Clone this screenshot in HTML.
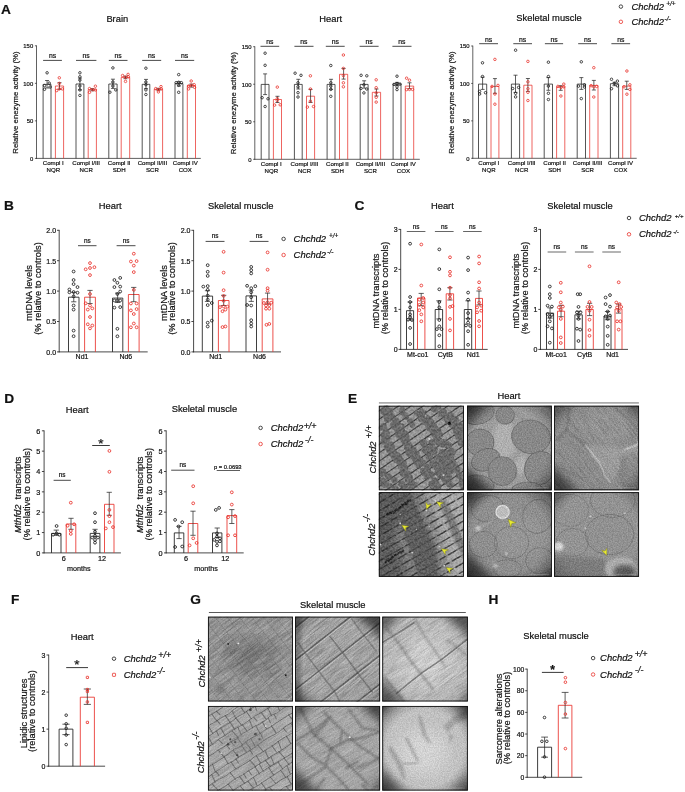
<!DOCTYPE html>
<html><head><meta charset="utf-8"><title>Figure</title>
<style>html,body{margin:0;padding:0;background:#fff}svg{display:block;font-family:"Liberation Sans", sans-serif}text{stroke:#111;stroke-width:.2px}</style></head>
<body><svg width="685" height="792" viewBox="0 0 685 792"><defs><filter id="gr1" x="0" y="0" width="100%" height="100%" color-interpolation-filters="sRGB"><feTurbulence type="fractalNoise" baseFrequency="0.8" numOctaves="2" seed="3"/><feColorMatrix type="matrix" values="2.0 0 0 0 -0.500 2.0 0 0 0 -0.500 2.0 0 0 0 -0.500 0 0 0 0 0.16"/></filter><filter id="gr2" x="0" y="0" width="100%" height="100%" color-interpolation-filters="sRGB"><feTurbulence type="fractalNoise" baseFrequency="0.5" numOctaves="2" seed="7"/><feColorMatrix type="matrix" values="2.2 0 0 0 -0.600 2.2 0 0 0 -0.600 2.2 0 0 0 -0.600 0 0 0 0 0.2"/></filter><filter id="gr3" x="0" y="0" width="100%" height="100%" color-interpolation-filters="sRGB"><feTurbulence type="fractalNoise" baseFrequency="0.25" numOctaves="3" seed="12"/><feColorMatrix type="matrix" values="2.2 0 0 0 -0.600 2.2 0 0 0 -0.600 2.2 0 0 0 -0.600 0 0 0 0 0.35"/></filter><filter id="fd" x="0" y="0" width="100%" height="100%" color-interpolation-filters="sRGB"><feTurbulence type="fractalNoise" baseFrequency="0.05 1.1" numOctaves="2" seed="4"/><feColorMatrix type="matrix" values="0 0 0 0 0 0 0 0 0 0 0 0 0 0 0 2.0 0 0 0 -0.75"/></filter><filter id="fw" x="0" y="0" width="100%" height="100%" color-interpolation-filters="sRGB"><feTurbulence type="fractalNoise" baseFrequency="0.05 1.1" numOctaves="2" seed="9"/><feColorMatrix type="matrix" values="0 0 0 0 1 0 0 0 0 1 0 0 0 0 1 2.0 0 0 0 -0.75"/></filter><filter id="b05"><feGaussianBlur stdDeviation="0.5"/></filter><filter id="b1"><feGaussianBlur stdDeviation="1"/></filter><filter id="b2"><feGaussianBlur stdDeviation="2.2"/></filter><filter id="b4"><feGaussianBlur stdDeviation="4.5"/></filter><filter id="b8"><feGaussianBlur stdDeviation="8"/></filter><radialGradient id="vg" cx="0.5" cy="0.5" r="0.75"><stop offset="0.58" stop-color="#000" stop-opacity="0"/><stop offset="0.8" stop-color="#000" stop-opacity="0.28"/><stop offset="0.95" stop-color="#000" stop-opacity="0.78"/></radialGradient><radialGradient id="vg2" cx="0.5" cy="0.5" r="0.75"><stop offset="0.62" stop-color="#000" stop-opacity="0"/><stop offset="0.85" stop-color="#000" stop-opacity="0.18"/><stop offset="0.96" stop-color="#000" stop-opacity="0.5"/></radialGradient><clipPath id="cp"><rect x="0" y="0" width="84" height="84"/></clipPath></defs>
<rect width="685" height="792" fill="#fff"/>
<text x="1" y="13.9" font-size="13.7" text-anchor="start" font-weight="bold" fill="#111">A</text>
<text x="4" y="210.2" font-size="13.7" text-anchor="start" font-weight="bold" fill="#111">B</text>
<text x="354.6" y="210.2" font-size="13.7" text-anchor="start" font-weight="bold" fill="#111">C</text>
<text x="4.2" y="402.9" font-size="13.7" text-anchor="start" font-weight="bold" fill="#111">D</text>
<text x="348" y="402.7" font-size="13.7" text-anchor="start" font-weight="bold" fill="#111">E</text>
<text x="11" y="603.5" font-size="13.7" text-anchor="start" font-weight="bold" fill="#111">F</text>
<text x="190.2" y="603.5" font-size="13.7" text-anchor="start" font-weight="bold" fill="#111">G</text>
<text x="488.4" y="603.5" font-size="13.7" text-anchor="start" font-weight="bold" fill="#111">H</text>
<line x1="36.5" y1="45.45" x2="36.5" y2="158.75" stroke="#1c1c1c" stroke-width="0.7"/>
<line x1="36.15" y1="158.4" x2="200.8" y2="158.4" stroke="#1c1c1c" stroke-width="0.7"/>
<line x1="34.9" y1="158.4" x2="36.5" y2="158.4" stroke="#1c1c1c" stroke-width="0.7"/>
<text x="33.2" y="160.76" font-size="5.9" text-anchor="end" fill="#111">0</text>
<line x1="34.9" y1="120.87" x2="36.5" y2="120.87" stroke="#1c1c1c" stroke-width="0.7"/>
<text x="33.2" y="123.23" font-size="5.9" text-anchor="end" fill="#111">50</text>
<line x1="34.9" y1="83.33" x2="36.5" y2="83.33" stroke="#1c1c1c" stroke-width="0.7"/>
<text x="33.2" y="85.69" font-size="5.9" text-anchor="end" fill="#111">100</text>
<line x1="34.9" y1="45.8" x2="36.5" y2="45.8" stroke="#1c1c1c" stroke-width="0.7"/>
<text x="33.2" y="48.16" font-size="5.9" text-anchor="end" fill="#111">150</text>
<text x="117.3" y="22" font-size="9.35" text-anchor="middle" fill="#111">Brain</text>
<path d="M43.1 158.4V84.4H51V158.4" fill="none" stroke="#1c1c1c" stroke-width="0.75"/>
<path d="M47.05 80.5V88M45.05 80.5H49.05M45.05 88H49.05" fill="none" stroke="#2a2a2a" stroke-width="0.75"/>
<circle cx="47.1" cy="72.8" r="1.25" fill="none" stroke="#1c1c1c" stroke-width="0.8"/>
<circle cx="49.2" cy="83.1" r="1.25" fill="none" stroke="#1c1c1c" stroke-width="0.8"/>
<circle cx="44.5" cy="85.6" r="1.25" fill="none" stroke="#1c1c1c" stroke-width="0.8"/>
<circle cx="44.5" cy="89.3" r="1.25" fill="none" stroke="#1c1c1c" stroke-width="0.8"/>
<circle cx="50.1" cy="87" r="1.25" fill="none" stroke="#1c1c1c" stroke-width="0.8"/>
<path d="M55.4 158.4V86H63.6V158.4" fill="none" stroke="#e8322c" stroke-width="0.75"/>
<path d="M59.5 82.7V89.3M57.5 82.7H61.5M57.5 89.3H61.5" fill="none" stroke="#2a2a2a" stroke-width="0.75"/>
<circle cx="59.3" cy="77.8" r="1.25" fill="none" stroke="#e8322c" stroke-width="0.8"/>
<circle cx="59.3" cy="83.4" r="1.25" fill="none" stroke="#e8322c" stroke-width="0.8"/>
<circle cx="56.7" cy="90.6" r="1.25" fill="none" stroke="#e8322c" stroke-width="0.8"/>
<circle cx="59.3" cy="88.9" r="1.25" fill="none" stroke="#e8322c" stroke-width="0.8"/>
<circle cx="62.3" cy="88.9" r="1.25" fill="none" stroke="#e8322c" stroke-width="0.8"/>
<path d="M76 158.4V84H83.9V158.4" fill="none" stroke="#1c1c1c" stroke-width="0.75"/>
<path d="M79.95 78.1V89.9M77.95 78.1H81.95M77.95 89.9H81.95" fill="none" stroke="#2a2a2a" stroke-width="0.75"/>
<circle cx="79.9" cy="72.8" r="1.25" fill="none" stroke="#1c1c1c" stroke-width="0.8"/>
<circle cx="79.9" cy="76.8" r="1.25" fill="none" stroke="#1c1c1c" stroke-width="0.8"/>
<circle cx="79.9" cy="80.1" r="1.25" fill="none" stroke="#1c1c1c" stroke-width="0.8"/>
<circle cx="79.9" cy="86" r="1.25" fill="none" stroke="#1c1c1c" stroke-width="0.8"/>
<circle cx="79.9" cy="89.9" r="1.25" fill="none" stroke="#1c1c1c" stroke-width="0.8"/>
<circle cx="79.9" cy="95.4" r="1.25" fill="none" stroke="#1c1c1c" stroke-width="0.8"/>
<path d="M88.2 158.4V89.7H96.4V158.4" fill="none" stroke="#e8322c" stroke-width="0.75"/>
<path d="M92.3 88.6V90.8M90.3 88.6H94.3M90.3 90.8H94.3" fill="none" stroke="#2a2a2a" stroke-width="0.75"/>
<circle cx="95.4" cy="86.2" r="1.25" fill="none" stroke="#e8322c" stroke-width="0.8"/>
<circle cx="89.5" cy="88.6" r="1.25" fill="none" stroke="#e8322c" stroke-width="0.8"/>
<circle cx="92.8" cy="89.7" r="1.25" fill="none" stroke="#e8322c" stroke-width="0.8"/>
<circle cx="95.4" cy="89.9" r="1.25" fill="none" stroke="#e8322c" stroke-width="0.8"/>
<circle cx="89.5" cy="92.3" r="1.25" fill="none" stroke="#e8322c" stroke-width="0.8"/>
<path d="M108.8 158.4V84H117.1V158.4" fill="none" stroke="#1c1c1c" stroke-width="0.75"/>
<path d="M112.95 79.2V88.4M110.95 79.2H114.95M110.95 88.4H114.95" fill="none" stroke="#2a2a2a" stroke-width="0.75"/>
<circle cx="112.9" cy="67.9" r="1.25" fill="none" stroke="#1c1c1c" stroke-width="0.8"/>
<circle cx="112.9" cy="82" r="1.25" fill="none" stroke="#1c1c1c" stroke-width="0.8"/>
<circle cx="112.9" cy="86" r="1.25" fill="none" stroke="#1c1c1c" stroke-width="0.8"/>
<circle cx="109.9" cy="92.2" r="1.25" fill="none" stroke="#1c1c1c" stroke-width="0.8"/>
<circle cx="115.8" cy="89.9" r="1.25" fill="none" stroke="#1c1c1c" stroke-width="0.8"/>
<path d="M121.2 158.4V77.4H129.7V158.4" fill="none" stroke="#e8322c" stroke-width="0.75"/>
<path d="M125.45 76.1V78.7M123.45 76.1H127.45M123.45 78.7H127.45" fill="none" stroke="#2a2a2a" stroke-width="0.75"/>
<circle cx="122.6" cy="75.5" r="1.25" fill="none" stroke="#e8322c" stroke-width="0.8"/>
<circle cx="125.5" cy="77.4" r="1.25" fill="none" stroke="#e8322c" stroke-width="0.8"/>
<circle cx="128.1" cy="74.4" r="1.25" fill="none" stroke="#e8322c" stroke-width="0.8"/>
<circle cx="128.4" cy="76.8" r="1.25" fill="none" stroke="#e8322c" stroke-width="0.8"/>
<circle cx="125.5" cy="81.4" r="1.25" fill="none" stroke="#e8322c" stroke-width="0.8"/>
<path d="M142.2 158.4V84.3H149.8V158.4" fill="none" stroke="#1c1c1c" stroke-width="0.75"/>
<path d="M146 79.4V88.6M144 79.4H148M144 88.6H148" fill="none" stroke="#2a2a2a" stroke-width="0.75"/>
<circle cx="145.9" cy="68.2" r="1.25" fill="none" stroke="#1c1c1c" stroke-width="0.8"/>
<circle cx="145.9" cy="82" r="1.25" fill="none" stroke="#1c1c1c" stroke-width="0.8"/>
<circle cx="145.9" cy="84.7" r="1.25" fill="none" stroke="#1c1c1c" stroke-width="0.8"/>
<circle cx="145.9" cy="89.9" r="1.25" fill="none" stroke="#1c1c1c" stroke-width="0.8"/>
<circle cx="145.9" cy="94.5" r="1.25" fill="none" stroke="#1c1c1c" stroke-width="0.8"/>
<path d="M154.2 158.4V89.3H162.6V158.4" fill="none" stroke="#e8322c" stroke-width="0.75"/>
<path d="M158.4 88.3V90.3M156.4 88.3H160.4M156.4 90.3H160.4" fill="none" stroke="#2a2a2a" stroke-width="0.75"/>
<circle cx="155.7" cy="88.6" r="1.25" fill="none" stroke="#e8322c" stroke-width="0.8"/>
<circle cx="158.4" cy="89.7" r="1.25" fill="none" stroke="#e8322c" stroke-width="0.8"/>
<circle cx="161" cy="86.6" r="1.25" fill="none" stroke="#e8322c" stroke-width="0.8"/>
<circle cx="161.3" cy="88.9" r="1.25" fill="none" stroke="#e8322c" stroke-width="0.8"/>
<circle cx="158.4" cy="91.9" r="1.25" fill="none" stroke="#e8322c" stroke-width="0.8"/>
<path d="M175 158.4V83.6H182.9V158.4" fill="none" stroke="#1c1c1c" stroke-width="0.75"/>
<path d="M178.95 81.8V86M176.95 81.8H180.95M176.95 86H180.95" fill="none" stroke="#2a2a2a" stroke-width="0.75"/>
<circle cx="178.7" cy="74.6" r="1.25" fill="none" stroke="#1c1c1c" stroke-width="0.8"/>
<circle cx="176.1" cy="82.7" r="1.25" fill="none" stroke="#1c1c1c" stroke-width="0.8"/>
<circle cx="178.7" cy="82.3" r="1.25" fill="none" stroke="#1c1c1c" stroke-width="0.8"/>
<circle cx="181.4" cy="82.7" r="1.25" fill="none" stroke="#1c1c1c" stroke-width="0.8"/>
<circle cx="178.7" cy="85.3" r="1.25" fill="none" stroke="#1c1c1c" stroke-width="0.8"/>
<circle cx="178.7" cy="92.3" r="1.25" fill="none" stroke="#1c1c1c" stroke-width="0.8"/>
<path d="M187.3 158.4V85.6H195.5V158.4" fill="none" stroke="#e8322c" stroke-width="0.75"/>
<path d="M191.4 84.1V87.1M189.4 84.1H193.4M189.4 87.1H193.4" fill="none" stroke="#2a2a2a" stroke-width="0.75"/>
<circle cx="191.2" cy="81" r="1.25" fill="none" stroke="#e8322c" stroke-width="0.8"/>
<circle cx="188.6" cy="86" r="1.25" fill="none" stroke="#e8322c" stroke-width="0.8"/>
<circle cx="191.2" cy="85.3" r="1.25" fill="none" stroke="#e8322c" stroke-width="0.8"/>
<circle cx="194.2" cy="84.7" r="1.25" fill="none" stroke="#e8322c" stroke-width="0.8"/>
<circle cx="188.6" cy="88.9" r="1.25" fill="none" stroke="#e8322c" stroke-width="0.8"/>
<circle cx="194.5" cy="87.3" r="1.25" fill="none" stroke="#e8322c" stroke-width="0.8"/>
<line x1="43.1" y1="60.4" x2="61.9" y2="60.4" stroke="#4a4a4a" stroke-width="1.0"/>
<text x="52.5" y="58.2" font-size="6.8" text-anchor="middle" fill="#111">ns</text>
<line x1="76" y1="60.4" x2="96.4" y2="60.4" stroke="#4a4a4a" stroke-width="1.0"/>
<text x="86.2" y="58.2" font-size="6.8" text-anchor="middle" fill="#111">ns</text>
<line x1="108.8" y1="60.4" x2="127.5" y2="60.4" stroke="#4a4a4a" stroke-width="1.0"/>
<text x="118.15" y="58.2" font-size="6.8" text-anchor="middle" fill="#111">ns</text>
<line x1="142.2" y1="60.4" x2="161.2" y2="60.4" stroke="#4a4a4a" stroke-width="1.0"/>
<text x="151.7" y="58.2" font-size="6.8" text-anchor="middle" fill="#111">ns</text>
<line x1="175" y1="60.4" x2="194.2" y2="60.4" stroke="#4a4a4a" stroke-width="1.0"/>
<text x="184.6" y="58.2" font-size="6.8" text-anchor="middle" fill="#111">ns</text>
<text x="53.3" y="165.3" font-size="6.1" text-anchor="middle" fill="#111">Compl I</text>
<text x="53.3" y="172.4" font-size="6.1" text-anchor="middle" fill="#111">NQR</text>
<text x="86.2" y="165.3" font-size="6.1" text-anchor="middle" fill="#111">Compl I/III</text>
<text x="86.2" y="172.4" font-size="6.1" text-anchor="middle" fill="#111">NCR</text>
<text x="119.2" y="165.3" font-size="6.1" text-anchor="middle" fill="#111">Compl II</text>
<text x="119.2" y="172.4" font-size="6.1" text-anchor="middle" fill="#111">SDH</text>
<text x="152.4" y="165.3" font-size="6.1" text-anchor="middle" fill="#111">Compl II/III</text>
<text x="152.4" y="172.4" font-size="6.1" text-anchor="middle" fill="#111">SCR</text>
<text x="185.3" y="165.3" font-size="6.1" text-anchor="middle" fill="#111">Compl IV</text>
<text x="185.3" y="172.4" font-size="6.1" text-anchor="middle" fill="#111">COX</text>
<line x1="254.8" y1="46.35" x2="254.8" y2="159.65" stroke="#1c1c1c" stroke-width="0.7"/>
<line x1="254.45" y1="159.3" x2="419.8" y2="159.3" stroke="#1c1c1c" stroke-width="0.7"/>
<line x1="253.2" y1="159.3" x2="254.8" y2="159.3" stroke="#1c1c1c" stroke-width="0.7"/>
<text x="251.5" y="161.66" font-size="5.9" text-anchor="end" fill="#111">0</text>
<line x1="253.2" y1="121.77" x2="254.8" y2="121.77" stroke="#1c1c1c" stroke-width="0.7"/>
<text x="251.5" y="124.13" font-size="5.9" text-anchor="end" fill="#111">50</text>
<line x1="253.2" y1="84.23" x2="254.8" y2="84.23" stroke="#1c1c1c" stroke-width="0.7"/>
<text x="251.5" y="86.59" font-size="5.9" text-anchor="end" fill="#111">100</text>
<line x1="253.2" y1="46.7" x2="254.8" y2="46.7" stroke="#1c1c1c" stroke-width="0.7"/>
<text x="251.5" y="49.06" font-size="5.9" text-anchor="end" fill="#111">150</text>
<text x="330.8" y="21.8" font-size="9.35" text-anchor="middle" fill="#111">Heart</text>
<path d="M261.2 159.3V84.4H269V159.3" fill="none" stroke="#1c1c1c" stroke-width="0.75"/>
<path d="M265.1 73.9V94.6M263.1 73.9H267.1M263.1 94.6H267.1" fill="none" stroke="#2a2a2a" stroke-width="0.75"/>
<circle cx="265.1" cy="53.2" r="1.25" fill="none" stroke="#1c1c1c" stroke-width="0.8"/>
<circle cx="265.1" cy="65.3" r="1.25" fill="none" stroke="#1c1c1c" stroke-width="0.8"/>
<circle cx="262.1" cy="97.7" r="1.25" fill="none" stroke="#1c1c1c" stroke-width="0.8"/>
<circle cx="268" cy="98.8" r="1.25" fill="none" stroke="#1c1c1c" stroke-width="0.8"/>
<circle cx="265.1" cy="106.5" r="1.25" fill="none" stroke="#1c1c1c" stroke-width="0.8"/>
<path d="M273.4 159.3V99.5H281.5V159.3" fill="none" stroke="#e8322c" stroke-width="0.75"/>
<path d="M277.45 96.3V102.5M275.45 96.3H279.45M275.45 102.5H279.45" fill="none" stroke="#2a2a2a" stroke-width="0.75"/>
<circle cx="277.3" cy="87.1" r="1.25" fill="none" stroke="#e8322c" stroke-width="0.8"/>
<circle cx="277.3" cy="98.6" r="1.25" fill="none" stroke="#e8322c" stroke-width="0.8"/>
<circle cx="277.3" cy="100.5" r="1.25" fill="none" stroke="#e8322c" stroke-width="0.8"/>
<circle cx="274.6" cy="105.1" r="1.25" fill="none" stroke="#e8322c" stroke-width="0.8"/>
<circle cx="280.2" cy="104.8" r="1.25" fill="none" stroke="#e8322c" stroke-width="0.8"/>
<path d="M294.4 159.3V84.4H302.2V159.3" fill="none" stroke="#1c1c1c" stroke-width="0.75"/>
<path d="M298.3 79.3V89M296.3 79.3H300.3M296.3 89H300.3" fill="none" stroke="#2a2a2a" stroke-width="0.75"/>
<circle cx="295.1" cy="73.2" r="1.25" fill="none" stroke="#1c1c1c" stroke-width="0.8"/>
<circle cx="301" cy="75.3" r="1.25" fill="none" stroke="#1c1c1c" stroke-width="0.8"/>
<circle cx="298" cy="82.8" r="1.25" fill="none" stroke="#1c1c1c" stroke-width="0.8"/>
<circle cx="298" cy="86.8" r="1.25" fill="none" stroke="#1c1c1c" stroke-width="0.8"/>
<circle cx="298" cy="92.7" r="1.25" fill="none" stroke="#1c1c1c" stroke-width="0.8"/>
<circle cx="298" cy="97" r="1.25" fill="none" stroke="#1c1c1c" stroke-width="0.8"/>
<path d="M306.5 159.3V96.2H314.6V159.3" fill="none" stroke="#e8322c" stroke-width="0.75"/>
<path d="M310.55 89.4V102.5M308.55 89.4H312.55M308.55 102.5H312.55" fill="none" stroke="#2a2a2a" stroke-width="0.75"/>
<circle cx="310.4" cy="75.8" r="1.25" fill="none" stroke="#e8322c" stroke-width="0.8"/>
<circle cx="310.4" cy="89" r="1.25" fill="none" stroke="#e8322c" stroke-width="0.8"/>
<circle cx="310.4" cy="101.2" r="1.25" fill="none" stroke="#e8322c" stroke-width="0.8"/>
<circle cx="307.4" cy="107.1" r="1.25" fill="none" stroke="#e8322c" stroke-width="0.8"/>
<circle cx="313.5" cy="106.5" r="1.25" fill="none" stroke="#e8322c" stroke-width="0.8"/>
<path d="M327.1 159.3V84.4H335V159.3" fill="none" stroke="#1c1c1c" stroke-width="0.75"/>
<path d="M331.05 79.3V89.4M329.05 79.3H333.05M329.05 89.4H333.05" fill="none" stroke="#2a2a2a" stroke-width="0.75"/>
<circle cx="330.8" cy="65.5" r="1.25" fill="none" stroke="#1c1c1c" stroke-width="0.8"/>
<circle cx="330.8" cy="82.8" r="1.25" fill="none" stroke="#1c1c1c" stroke-width="0.8"/>
<circle cx="330.8" cy="86.1" r="1.25" fill="none" stroke="#1c1c1c" stroke-width="0.8"/>
<circle cx="330.8" cy="89.4" r="1.25" fill="none" stroke="#1c1c1c" stroke-width="0.8"/>
<circle cx="330.8" cy="96.3" r="1.25" fill="none" stroke="#1c1c1c" stroke-width="0.8"/>
<path d="M339.5 159.3V74.3H347.7V159.3" fill="none" stroke="#e8322c" stroke-width="0.75"/>
<path d="M343.6 68.4V79.1M341.6 68.4H345.6M341.6 79.1H345.6" fill="none" stroke="#2a2a2a" stroke-width="0.75"/>
<circle cx="343.4" cy="55" r="1.25" fill="none" stroke="#e8322c" stroke-width="0.8"/>
<circle cx="343.4" cy="68.4" r="1.25" fill="none" stroke="#e8322c" stroke-width="0.8"/>
<circle cx="343.4" cy="75.6" r="1.25" fill="none" stroke="#e8322c" stroke-width="0.8"/>
<circle cx="343.4" cy="82.8" r="1.25" fill="none" stroke="#e8322c" stroke-width="0.8"/>
<circle cx="343.4" cy="86.8" r="1.25" fill="none" stroke="#e8322c" stroke-width="0.8"/>
<path d="M360.2 159.3V84.4H368.1V159.3" fill="none" stroke="#1c1c1c" stroke-width="0.75"/>
<path d="M364.15 80.8V88.1M362.15 80.8H366.15M362.15 88.1H366.15" fill="none" stroke="#2a2a2a" stroke-width="0.75"/>
<circle cx="361.1" cy="75.3" r="1.25" fill="none" stroke="#1c1c1c" stroke-width="0.8"/>
<circle cx="366.8" cy="75.8" r="1.25" fill="none" stroke="#1c1c1c" stroke-width="0.8"/>
<circle cx="360.9" cy="88.5" r="1.25" fill="none" stroke="#1c1c1c" stroke-width="0.8"/>
<circle cx="366.8" cy="89" r="1.25" fill="none" stroke="#1c1c1c" stroke-width="0.8"/>
<circle cx="363.9" cy="84.8" r="1.25" fill="none" stroke="#1c1c1c" stroke-width="0.8"/>
<circle cx="363.9" cy="92.9" r="1.25" fill="none" stroke="#1c1c1c" stroke-width="0.8"/>
<path d="M372.3 159.3V92.3H380.6V159.3" fill="none" stroke="#e8322c" stroke-width="0.75"/>
<path d="M376.45 89V96M374.45 89H378.45M374.45 96H378.45" fill="none" stroke="#2a2a2a" stroke-width="0.75"/>
<circle cx="376.2" cy="79.8" r="1.25" fill="none" stroke="#e8322c" stroke-width="0.8"/>
<circle cx="376.2" cy="87.7" r="1.25" fill="none" stroke="#e8322c" stroke-width="0.8"/>
<circle cx="376.2" cy="92.9" r="1.25" fill="none" stroke="#e8322c" stroke-width="0.8"/>
<circle cx="376.2" cy="97.3" r="1.25" fill="none" stroke="#e8322c" stroke-width="0.8"/>
<circle cx="376.2" cy="102.1" r="1.25" fill="none" stroke="#e8322c" stroke-width="0.8"/>
<path d="M393.1 159.3V83.9H401V159.3" fill="none" stroke="#1c1c1c" stroke-width="0.75"/>
<path d="M397.05 82.4V85.4M395.05 82.4H399.05M395.05 85.4H399.05" fill="none" stroke="#2a2a2a" stroke-width="0.75"/>
<circle cx="397" cy="76.2" r="1.25" fill="none" stroke="#1c1c1c" stroke-width="0.8"/>
<circle cx="394" cy="84.4" r="1.25" fill="none" stroke="#1c1c1c" stroke-width="0.8"/>
<circle cx="397" cy="83.5" r="1.25" fill="none" stroke="#1c1c1c" stroke-width="0.8"/>
<circle cx="400" cy="84.1" r="1.25" fill="none" stroke="#1c1c1c" stroke-width="0.8"/>
<circle cx="397" cy="86.8" r="1.25" fill="none" stroke="#1c1c1c" stroke-width="0.8"/>
<circle cx="397" cy="89.6" r="1.25" fill="none" stroke="#1c1c1c" stroke-width="0.8"/>
<path d="M405.3 159.3V86.1H413.7V159.3" fill="none" stroke="#e8322c" stroke-width="0.75"/>
<path d="M409.5 82.8V88.7M407.5 82.8H411.5M407.5 88.7H411.5" fill="none" stroke="#2a2a2a" stroke-width="0.75"/>
<circle cx="406.6" cy="78.2" r="1.25" fill="none" stroke="#e8322c" stroke-width="0.8"/>
<circle cx="409.5" cy="80.2" r="1.25" fill="none" stroke="#e8322c" stroke-width="0.8"/>
<circle cx="406.6" cy="89.6" r="1.25" fill="none" stroke="#e8322c" stroke-width="0.8"/>
<circle cx="409.5" cy="89.4" r="1.25" fill="none" stroke="#e8322c" stroke-width="0.8"/>
<circle cx="412.5" cy="89.4" r="1.25" fill="none" stroke="#e8322c" stroke-width="0.8"/>
<line x1="260.5" y1="46.3" x2="279.2" y2="46.3" stroke="#4a4a4a" stroke-width="1.0"/>
<text x="269.85" y="44.1" font-size="6.8" text-anchor="middle" fill="#111">ns</text>
<line x1="294.4" y1="46.3" x2="313.5" y2="46.3" stroke="#4a4a4a" stroke-width="1.0"/>
<text x="303.95" y="44.1" font-size="6.8" text-anchor="middle" fill="#111">ns</text>
<line x1="325.8" y1="46.3" x2="344.7" y2="46.3" stroke="#4a4a4a" stroke-width="1.0"/>
<text x="335.25" y="44.1" font-size="6.8" text-anchor="middle" fill="#111">ns</text>
<line x1="359.6" y1="46.3" x2="378.6" y2="46.3" stroke="#4a4a4a" stroke-width="1.0"/>
<text x="369.1" y="44.1" font-size="6.8" text-anchor="middle" fill="#111">ns</text>
<line x1="392.4" y1="46.3" x2="411.5" y2="46.3" stroke="#4a4a4a" stroke-width="1.0"/>
<text x="401.95" y="44.1" font-size="6.8" text-anchor="middle" fill="#111">ns</text>
<text x="271.3" y="166.2" font-size="6.1" text-anchor="middle" fill="#111">Compl I</text>
<text x="271.3" y="173.3" font-size="6.1" text-anchor="middle" fill="#111">NQR</text>
<text x="304.5" y="166.2" font-size="6.1" text-anchor="middle" fill="#111">Compl I/III</text>
<text x="304.5" y="173.3" font-size="6.1" text-anchor="middle" fill="#111">NCR</text>
<text x="337.4" y="166.2" font-size="6.1" text-anchor="middle" fill="#111">Compl II</text>
<text x="337.4" y="173.3" font-size="6.1" text-anchor="middle" fill="#111">SDH</text>
<text x="370.4" y="166.2" font-size="6.1" text-anchor="middle" fill="#111">Compl II/III</text>
<text x="370.4" y="173.3" font-size="6.1" text-anchor="middle" fill="#111">SCR</text>
<text x="403.4" y="166.2" font-size="6.1" text-anchor="middle" fill="#111">Compl IV</text>
<text x="403.4" y="173.3" font-size="6.1" text-anchor="middle" fill="#111">COX</text>
<line x1="472.8" y1="45.65" x2="472.8" y2="158.65" stroke="#1c1c1c" stroke-width="0.7"/>
<line x1="472.45" y1="158.3" x2="636.7" y2="158.3" stroke="#1c1c1c" stroke-width="0.7"/>
<line x1="471.2" y1="158.3" x2="472.8" y2="158.3" stroke="#1c1c1c" stroke-width="0.7"/>
<text x="469.5" y="160.66" font-size="5.9" text-anchor="end" fill="#111">0</text>
<line x1="471.2" y1="120.87" x2="472.8" y2="120.87" stroke="#1c1c1c" stroke-width="0.7"/>
<text x="469.5" y="123.23" font-size="5.9" text-anchor="end" fill="#111">50</text>
<line x1="471.2" y1="83.43" x2="472.8" y2="83.43" stroke="#1c1c1c" stroke-width="0.7"/>
<text x="469.5" y="85.79" font-size="5.9" text-anchor="end" fill="#111">100</text>
<line x1="471.2" y1="46" x2="472.8" y2="46" stroke="#1c1c1c" stroke-width="0.7"/>
<text x="469.5" y="48.36" font-size="5.9" text-anchor="end" fill="#111">150</text>
<text x="549" y="21.3" font-size="9.35" text-anchor="middle" fill="#111">Skeletal muscle</text>
<path d="M478.5 158.3V84.1H486.7V158.3" fill="none" stroke="#1c1c1c" stroke-width="0.75"/>
<path d="M482.6 77.2V89.4M480.6 77.2H484.6M480.6 89.4H484.6" fill="none" stroke="#2a2a2a" stroke-width="0.75"/>
<circle cx="482.5" cy="62.8" r="1.25" fill="none" stroke="#1c1c1c" stroke-width="0.8"/>
<circle cx="482.5" cy="76.5" r="1.25" fill="none" stroke="#1c1c1c" stroke-width="0.8"/>
<circle cx="479.6" cy="91.4" r="1.25" fill="none" stroke="#1c1c1c" stroke-width="0.8"/>
<circle cx="479.6" cy="94" r="1.25" fill="none" stroke="#1c1c1c" stroke-width="0.8"/>
<circle cx="485.5" cy="92.7" r="1.25" fill="none" stroke="#1c1c1c" stroke-width="0.8"/>
<path d="M491 158.3V86.4H498.9V158.3" fill="none" stroke="#e8322c" stroke-width="0.75"/>
<path d="M494.95 78.6V93.3M492.95 78.6H496.95M492.95 93.3H496.95" fill="none" stroke="#2a2a2a" stroke-width="0.75"/>
<circle cx="494.9" cy="59.4" r="1.25" fill="none" stroke="#e8322c" stroke-width="0.8"/>
<circle cx="492" cy="86.4" r="1.25" fill="none" stroke="#e8322c" stroke-width="0.8"/>
<circle cx="498" cy="85.4" r="1.25" fill="none" stroke="#e8322c" stroke-width="0.8"/>
<circle cx="494.9" cy="94" r="1.25" fill="none" stroke="#e8322c" stroke-width="0.8"/>
<circle cx="494.9" cy="104.2" r="1.25" fill="none" stroke="#e8322c" stroke-width="0.8"/>
<path d="M511.4 158.3V84.1H519.6V158.3" fill="none" stroke="#1c1c1c" stroke-width="0.75"/>
<path d="M515.5 75.2V92.4M513.5 75.2H517.5M513.5 92.4H517.5" fill="none" stroke="#2a2a2a" stroke-width="0.75"/>
<circle cx="515.6" cy="50.2" r="1.25" fill="none" stroke="#1c1c1c" stroke-width="0.8"/>
<circle cx="512.7" cy="88.5" r="1.25" fill="none" stroke="#1c1c1c" stroke-width="0.8"/>
<circle cx="518.6" cy="87.4" r="1.25" fill="none" stroke="#1c1c1c" stroke-width="0.8"/>
<circle cx="515.6" cy="93.3" r="1.25" fill="none" stroke="#1c1c1c" stroke-width="0.8"/>
<circle cx="515.6" cy="96.9" r="1.25" fill="none" stroke="#1c1c1c" stroke-width="0.8"/>
<path d="M523.8 158.3V85.2H532V158.3" fill="none" stroke="#e8322c" stroke-width="0.75"/>
<path d="M527.9 78.5V91.4M525.9 78.5H529.9M525.9 91.4H529.9" fill="none" stroke="#2a2a2a" stroke-width="0.75"/>
<circle cx="527.9" cy="61.4" r="1.25" fill="none" stroke="#e8322c" stroke-width="0.8"/>
<circle cx="527.9" cy="81.8" r="1.25" fill="none" stroke="#e8322c" stroke-width="0.8"/>
<circle cx="527.9" cy="88.7" r="1.25" fill="none" stroke="#e8322c" stroke-width="0.8"/>
<circle cx="527.9" cy="92.3" r="1.25" fill="none" stroke="#e8322c" stroke-width="0.8"/>
<circle cx="527.9" cy="100.5" r="1.25" fill="none" stroke="#e8322c" stroke-width="0.8"/>
<path d="M544.2 158.3V84.1H552.5V158.3" fill="none" stroke="#1c1c1c" stroke-width="0.75"/>
<path d="M548.35 77.6V90.3M546.35 77.6H550.35M546.35 90.3H550.35" fill="none" stroke="#2a2a2a" stroke-width="0.75"/>
<circle cx="548.4" cy="62.2" r="1.25" fill="none" stroke="#1c1c1c" stroke-width="0.8"/>
<circle cx="548.4" cy="76.5" r="1.25" fill="none" stroke="#1c1c1c" stroke-width="0.8"/>
<circle cx="548.4" cy="86.1" r="1.25" fill="none" stroke="#1c1c1c" stroke-width="0.8"/>
<circle cx="548.4" cy="93.3" r="1.25" fill="none" stroke="#1c1c1c" stroke-width="0.8"/>
<circle cx="548.4" cy="99.5" r="1.25" fill="none" stroke="#1c1c1c" stroke-width="0.8"/>
<path d="M556.6 158.3V86.8H564.8V158.3" fill="none" stroke="#e8322c" stroke-width="0.75"/>
<path d="M560.7 85.7V90.3M558.7 85.7H562.7M558.7 90.3H562.7" fill="none" stroke="#2a2a2a" stroke-width="0.75"/>
<circle cx="557.9" cy="86.4" r="1.25" fill="none" stroke="#e8322c" stroke-width="0.8"/>
<circle cx="560.9" cy="87.4" r="1.25" fill="none" stroke="#e8322c" stroke-width="0.8"/>
<circle cx="563.8" cy="84.1" r="1.25" fill="none" stroke="#e8322c" stroke-width="0.8"/>
<circle cx="563.8" cy="86.8" r="1.25" fill="none" stroke="#e8322c" stroke-width="0.8"/>
<circle cx="560.9" cy="96" r="1.25" fill="none" stroke="#e8322c" stroke-width="0.8"/>
<path d="M577.2 158.3V84.1H585.5V158.3" fill="none" stroke="#1c1c1c" stroke-width="0.75"/>
<path d="M581.35 77.6V89.4M579.35 77.6H583.35M579.35 89.4H583.35" fill="none" stroke="#2a2a2a" stroke-width="0.75"/>
<circle cx="581.3" cy="61.8" r="1.25" fill="none" stroke="#1c1c1c" stroke-width="0.8"/>
<circle cx="578.5" cy="86.1" r="1.25" fill="none" stroke="#1c1c1c" stroke-width="0.8"/>
<circle cx="584.4" cy="84.8" r="1.25" fill="none" stroke="#1c1c1c" stroke-width="0.8"/>
<circle cx="584.4" cy="87" r="1.25" fill="none" stroke="#1c1c1c" stroke-width="0.8"/>
<circle cx="581.3" cy="98.6" r="1.25" fill="none" stroke="#1c1c1c" stroke-width="0.8"/>
<path d="M589.7 158.3V85.4H598V158.3" fill="none" stroke="#e8322c" stroke-width="0.75"/>
<path d="M593.85 80.4V90M591.85 80.4H595.85M591.85 90H595.85" fill="none" stroke="#2a2a2a" stroke-width="0.75"/>
<circle cx="593.8" cy="67.7" r="1.25" fill="none" stroke="#e8322c" stroke-width="0.8"/>
<circle cx="591.1" cy="85.7" r="1.25" fill="none" stroke="#e8322c" stroke-width="0.8"/>
<circle cx="593.8" cy="86.8" r="1.25" fill="none" stroke="#e8322c" stroke-width="0.8"/>
<circle cx="596.6" cy="86.4" r="1.25" fill="none" stroke="#e8322c" stroke-width="0.8"/>
<circle cx="593.8" cy="97" r="1.25" fill="none" stroke="#e8322c" stroke-width="0.8"/>
<path d="M610.4 158.3V83.7H618.6V158.3" fill="none" stroke="#1c1c1c" stroke-width="0.75"/>
<path d="M614.5 82.2V85.7M612.5 82.2H616.5M612.5 85.7H616.5" fill="none" stroke="#2a2a2a" stroke-width="0.75"/>
<circle cx="611.5" cy="79.3" r="1.25" fill="none" stroke="#1c1c1c" stroke-width="0.8"/>
<circle cx="617.4" cy="81.1" r="1.25" fill="none" stroke="#1c1c1c" stroke-width="0.8"/>
<circle cx="614.4" cy="83.5" r="1.25" fill="none" stroke="#1c1c1c" stroke-width="0.8"/>
<circle cx="617.4" cy="85.8" r="1.25" fill="none" stroke="#1c1c1c" stroke-width="0.8"/>
<circle cx="611.5" cy="88.7" r="1.25" fill="none" stroke="#1c1c1c" stroke-width="0.8"/>
<path d="M622.7 158.3V86.1H630.8V158.3" fill="none" stroke="#e8322c" stroke-width="0.75"/>
<path d="M626.75 81.2V89.4M624.75 81.2H628.75M624.75 89.4H628.75" fill="none" stroke="#2a2a2a" stroke-width="0.75"/>
<circle cx="626.9" cy="71" r="1.25" fill="none" stroke="#e8322c" stroke-width="0.8"/>
<circle cx="624" cy="86.8" r="1.25" fill="none" stroke="#e8322c" stroke-width="0.8"/>
<circle cx="629.9" cy="84.8" r="1.25" fill="none" stroke="#e8322c" stroke-width="0.8"/>
<circle cx="629.9" cy="89.4" r="1.25" fill="none" stroke="#e8322c" stroke-width="0.8"/>
<circle cx="626.9" cy="94.2" r="1.25" fill="none" stroke="#e8322c" stroke-width="0.8"/>
<line x1="479.2" y1="43.7" x2="498" y2="43.7" stroke="#4a4a4a" stroke-width="1.0"/>
<text x="488.6" y="41.5" font-size="6.8" text-anchor="middle" fill="#111">ns</text>
<line x1="513.3" y1="43.7" x2="532" y2="43.7" stroke="#4a4a4a" stroke-width="1.0"/>
<text x="522.65" y="41.5" font-size="6.8" text-anchor="middle" fill="#111">ns</text>
<line x1="544.9" y1="43.7" x2="563.1" y2="43.7" stroke="#4a4a4a" stroke-width="1.0"/>
<text x="554" y="41.5" font-size="6.8" text-anchor="middle" fill="#111">ns</text>
<line x1="578.2" y1="43.7" x2="597" y2="43.7" stroke="#4a4a4a" stroke-width="1.0"/>
<text x="587.6" y="41.5" font-size="6.8" text-anchor="middle" fill="#111">ns</text>
<line x1="611.4" y1="43.7" x2="630.1" y2="43.7" stroke="#4a4a4a" stroke-width="1.0"/>
<text x="620.75" y="41.5" font-size="6.8" text-anchor="middle" fill="#111">ns</text>
<text x="488.8" y="165.2" font-size="6.1" text-anchor="middle" fill="#111">Compl I</text>
<text x="488.8" y="172.3" font-size="6.1" text-anchor="middle" fill="#111">NQR</text>
<text x="521.7" y="165.2" font-size="6.1" text-anchor="middle" fill="#111">Compl I/III</text>
<text x="521.7" y="172.3" font-size="6.1" text-anchor="middle" fill="#111">NCR</text>
<text x="554.6" y="165.2" font-size="6.1" text-anchor="middle" fill="#111">Compl II</text>
<text x="554.6" y="172.3" font-size="6.1" text-anchor="middle" fill="#111">SDH</text>
<text x="587.6" y="165.2" font-size="6.1" text-anchor="middle" fill="#111">Compl II/III</text>
<text x="587.6" y="172.3" font-size="6.1" text-anchor="middle" fill="#111">SCR</text>
<text x="620.6" y="165.2" font-size="6.1" text-anchor="middle" fill="#111">Compl IV</text>
<text x="620.6" y="172.3" font-size="6.1" text-anchor="middle" fill="#111">COX</text>
<text x="17.6" y="102.6" font-size="7.8" text-anchor="middle" transform="rotate(-90 17.6 102.6)" fill="#111">Relative enezyme activity (%)</text>
<text x="236" y="103" font-size="7.8" text-anchor="middle" transform="rotate(-90 236 103)" fill="#111">Relative enezyme activity (%)</text>
<text x="453.6" y="102.6" font-size="7.8" text-anchor="middle" transform="rotate(-90 453.6 102.6)" fill="#111">Relative enezyme activity (%)</text>
<circle cx="620.9" cy="6.6" r="1.75" fill="none" stroke="#1c1c1c" stroke-width="0.8"/>
<circle cx="620.9" cy="21.8" r="1.75" fill="none" stroke="#e8322c" stroke-width="0.8"/>
<text x="631.4" y="9.7" font-size="9.45" font-style="italic" fill="#111">Chchd2<tspan dx="2.2" dy="-3.6" font-size="6.5">+/+</tspan></text>
<text x="631.4" y="24.9" font-size="9.45" font-style="italic" fill="#111">Chchd2<tspan dx="0.6" dy="-3.6" font-size="6.5">-/-</tspan></text>
<line x1="59.2" y1="229.9" x2="59.2" y2="352.3" stroke="#1c1c1c" stroke-width="0.8"/>
<line x1="58.8" y1="351.9" x2="147.7" y2="351.9" stroke="#1c1c1c" stroke-width="0.8"/>
<line x1="57" y1="351.9" x2="59.2" y2="351.9" stroke="#1c1c1c" stroke-width="0.8"/>
<text x="56.1" y="354.7" font-size="7.0" text-anchor="end" fill="#111">0.0</text>
<line x1="57" y1="321.5" x2="59.2" y2="321.5" stroke="#1c1c1c" stroke-width="0.8"/>
<text x="56.1" y="324.3" font-size="7.0" text-anchor="end" fill="#111">0.5</text>
<line x1="57" y1="291.1" x2="59.2" y2="291.1" stroke="#1c1c1c" stroke-width="0.8"/>
<text x="56.1" y="293.9" font-size="7.0" text-anchor="end" fill="#111">1.0</text>
<line x1="57" y1="260.7" x2="59.2" y2="260.7" stroke="#1c1c1c" stroke-width="0.8"/>
<text x="56.1" y="263.5" font-size="7.0" text-anchor="end" fill="#111">1.5</text>
<line x1="57" y1="230.3" x2="59.2" y2="230.3" stroke="#1c1c1c" stroke-width="0.8"/>
<text x="56.1" y="233.1" font-size="7.0" text-anchor="end" fill="#111">2.0</text>
<path d="M68.5 351.9V297.2H79V351.9" fill="none" stroke="#1c1c1c" stroke-width="0.85"/>
<path d="M73.75 292.3V301.8M71.15 292.3H76.35M71.15 301.8H76.35" fill="none" stroke="#2a2a2a" stroke-width="0.75"/>
<circle cx="73.6" cy="271.5" r="1.4" fill="none" stroke="#1c1c1c" stroke-width="0.85"/>
<circle cx="73.6" cy="280" r="1.4" fill="none" stroke="#1c1c1c" stroke-width="0.85"/>
<circle cx="73.6" cy="284.1" r="1.4" fill="none" stroke="#1c1c1c" stroke-width="0.85"/>
<circle cx="77.5" cy="287.1" r="1.4" fill="none" stroke="#1c1c1c" stroke-width="0.85"/>
<circle cx="69.4" cy="289.5" r="1.4" fill="none" stroke="#1c1c1c" stroke-width="0.85"/>
<circle cx="69.4" cy="292.3" r="1.4" fill="none" stroke="#1c1c1c" stroke-width="0.85"/>
<circle cx="73.6" cy="292" r="1.4" fill="none" stroke="#1c1c1c" stroke-width="0.85"/>
<circle cx="77.5" cy="292.7" r="1.4" fill="none" stroke="#1c1c1c" stroke-width="0.85"/>
<circle cx="73.6" cy="296.4" r="1.4" fill="none" stroke="#1c1c1c" stroke-width="0.85"/>
<circle cx="73.6" cy="305.5" r="1.4" fill="none" stroke="#1c1c1c" stroke-width="0.85"/>
<circle cx="73.6" cy="309.6" r="1.4" fill="none" stroke="#1c1c1c" stroke-width="0.85"/>
<circle cx="73.6" cy="330.6" r="1.4" fill="none" stroke="#1c1c1c" stroke-width="0.85"/>
<circle cx="73.6" cy="336.2" r="1.4" fill="none" stroke="#1c1c1c" stroke-width="0.85"/>
<path d="M84.6 351.9V297.2H95.4V351.9" fill="none" stroke="#e8322c" stroke-width="0.85"/>
<path d="M90 290.4V303.5M87.4 290.4H92.6M87.4 303.5H92.6" fill="none" stroke="#2a2a2a" stroke-width="0.75"/>
<circle cx="90" cy="263.1" r="1.4" fill="none" stroke="#e8322c" stroke-width="0.85"/>
<circle cx="85.7" cy="269.3" r="1.4" fill="none" stroke="#e8322c" stroke-width="0.85"/>
<circle cx="90" cy="268" r="1.4" fill="none" stroke="#e8322c" stroke-width="0.85"/>
<circle cx="94.4" cy="267.2" r="1.4" fill="none" stroke="#e8322c" stroke-width="0.85"/>
<circle cx="90" cy="275.1" r="1.4" fill="none" stroke="#e8322c" stroke-width="0.85"/>
<circle cx="90" cy="294" r="1.4" fill="none" stroke="#e8322c" stroke-width="0.85"/>
<circle cx="85.7" cy="303.3" r="1.4" fill="none" stroke="#e8322c" stroke-width="0.85"/>
<circle cx="90" cy="305.5" r="1.4" fill="none" stroke="#e8322c" stroke-width="0.85"/>
<circle cx="87.8" cy="309.6" r="1.4" fill="none" stroke="#e8322c" stroke-width="0.85"/>
<circle cx="92.3" cy="308.4" r="1.4" fill="none" stroke="#e8322c" stroke-width="0.85"/>
<circle cx="90" cy="317" r="1.4" fill="none" stroke="#e8322c" stroke-width="0.85"/>
<circle cx="87.8" cy="324.3" r="1.4" fill="none" stroke="#e8322c" stroke-width="0.85"/>
<circle cx="92.3" cy="325.5" r="1.4" fill="none" stroke="#e8322c" stroke-width="0.85"/>
<circle cx="90" cy="328.4" r="1.4" fill="none" stroke="#e8322c" stroke-width="0.85"/>
<path d="M112.5 351.9V298.1H122.8V351.9" fill="none" stroke="#1c1c1c" stroke-width="0.85"/>
<path d="M117.65 293.1V302.5M115.05 293.1H120.25M115.05 302.5H120.25" fill="none" stroke="#2a2a2a" stroke-width="0.75"/>
<circle cx="114.4" cy="280" r="1.4" fill="none" stroke="#1c1c1c" stroke-width="0.85"/>
<circle cx="120.2" cy="277.9" r="1.4" fill="none" stroke="#1c1c1c" stroke-width="0.85"/>
<circle cx="117.4" cy="282.8" r="1.4" fill="none" stroke="#1c1c1c" stroke-width="0.85"/>
<circle cx="114.4" cy="287.1" r="1.4" fill="none" stroke="#1c1c1c" stroke-width="0.85"/>
<circle cx="120.2" cy="286.6" r="1.4" fill="none" stroke="#1c1c1c" stroke-width="0.85"/>
<circle cx="120.2" cy="291.5" r="1.4" fill="none" stroke="#1c1c1c" stroke-width="0.85"/>
<circle cx="117.4" cy="294" r="1.4" fill="none" stroke="#1c1c1c" stroke-width="0.85"/>
<circle cx="114.4" cy="300.5" r="1.4" fill="none" stroke="#1c1c1c" stroke-width="0.85"/>
<circle cx="117.4" cy="300.5" r="1.4" fill="none" stroke="#1c1c1c" stroke-width="0.85"/>
<circle cx="120.2" cy="300.5" r="1.4" fill="none" stroke="#1c1c1c" stroke-width="0.85"/>
<circle cx="114.4" cy="307.6" r="1.4" fill="none" stroke="#1c1c1c" stroke-width="0.85"/>
<circle cx="120.2" cy="307.1" r="1.4" fill="none" stroke="#1c1c1c" stroke-width="0.85"/>
<circle cx="117.4" cy="328.8" r="1.4" fill="none" stroke="#1c1c1c" stroke-width="0.85"/>
<circle cx="117.4" cy="336.3" r="1.4" fill="none" stroke="#1c1c1c" stroke-width="0.85"/>
<path d="M128.4 351.9V294.5H139.1V351.9" fill="none" stroke="#e8322c" stroke-width="0.85"/>
<path d="M133.75 287.4V301.7M131.15 287.4H136.35M131.15 301.7H136.35" fill="none" stroke="#2a2a2a" stroke-width="0.75"/>
<circle cx="133.8" cy="253.7" r="1.4" fill="none" stroke="#e8322c" stroke-width="0.85"/>
<circle cx="130.9" cy="261.5" r="1.4" fill="none" stroke="#e8322c" stroke-width="0.85"/>
<circle cx="136.6" cy="261.1" r="1.4" fill="none" stroke="#e8322c" stroke-width="0.85"/>
<circle cx="133.8" cy="265.6" r="1.4" fill="none" stroke="#e8322c" stroke-width="0.85"/>
<circle cx="133.8" cy="272.1" r="1.4" fill="none" stroke="#e8322c" stroke-width="0.85"/>
<circle cx="133.8" cy="289.9" r="1.4" fill="none" stroke="#e8322c" stroke-width="0.85"/>
<circle cx="130.9" cy="303.5" r="1.4" fill="none" stroke="#e8322c" stroke-width="0.85"/>
<circle cx="136.6" cy="303.5" r="1.4" fill="none" stroke="#e8322c" stroke-width="0.85"/>
<circle cx="130.9" cy="310.4" r="1.4" fill="none" stroke="#e8322c" stroke-width="0.85"/>
<circle cx="136.6" cy="309.1" r="1.4" fill="none" stroke="#e8322c" stroke-width="0.85"/>
<circle cx="133.8" cy="314" r="1.4" fill="none" stroke="#e8322c" stroke-width="0.85"/>
<circle cx="133.8" cy="323.5" r="1.4" fill="none" stroke="#e8322c" stroke-width="0.85"/>
<circle cx="130.9" cy="327.3" r="1.4" fill="none" stroke="#e8322c" stroke-width="0.85"/>
<circle cx="136.6" cy="327.3" r="1.4" fill="none" stroke="#e8322c" stroke-width="0.85"/>
<line x1="78" y1="245.7" x2="96.5" y2="245.7" stroke="#4a4a4a" stroke-width="1.0"/>
<text x="87.25" y="242.7" font-size="6.4" text-anchor="middle" fill="#111">ns</text>
<line x1="116.6" y1="245.7" x2="135.5" y2="245.7" stroke="#4a4a4a" stroke-width="1.0"/>
<text x="126.05" y="242.7" font-size="6.4" text-anchor="middle" fill="#111">ns</text>
<text x="82" y="359" font-size="7.0" text-anchor="middle" fill="#111">Nd1</text>
<text x="125.8" y="359" font-size="7.0" text-anchor="middle" fill="#111">Nd6</text>
<text x="110.2" y="209" font-size="9.35" text-anchor="middle" fill="#111">Heart</text>
<text x="32.4" y="293" font-size="9.3" text-anchor="middle" transform="rotate(-90 32.4 293)" fill="#111">mtDNA levels</text>
<text x="41" y="288.5" font-size="9.3" text-anchor="middle" transform="rotate(-90 41 288.5)" fill="#111">(% relative to controls)</text>
<line x1="193.6" y1="229.9" x2="193.6" y2="352.3" stroke="#1c1c1c" stroke-width="0.8"/>
<line x1="193.2" y1="351.9" x2="281" y2="351.9" stroke="#1c1c1c" stroke-width="0.8"/>
<line x1="191.4" y1="351.9" x2="193.6" y2="351.9" stroke="#1c1c1c" stroke-width="0.8"/>
<text x="190.5" y="354.7" font-size="7.0" text-anchor="end" fill="#111">0.0</text>
<line x1="191.4" y1="321.5" x2="193.6" y2="321.5" stroke="#1c1c1c" stroke-width="0.8"/>
<text x="190.5" y="324.3" font-size="7.0" text-anchor="end" fill="#111">0.5</text>
<line x1="191.4" y1="291.1" x2="193.6" y2="291.1" stroke="#1c1c1c" stroke-width="0.8"/>
<text x="190.5" y="293.9" font-size="7.0" text-anchor="end" fill="#111">1.0</text>
<line x1="191.4" y1="260.7" x2="193.6" y2="260.7" stroke="#1c1c1c" stroke-width="0.8"/>
<text x="190.5" y="263.5" font-size="7.0" text-anchor="end" fill="#111">1.5</text>
<line x1="191.4" y1="230.3" x2="193.6" y2="230.3" stroke="#1c1c1c" stroke-width="0.8"/>
<text x="190.5" y="233.1" font-size="7.0" text-anchor="end" fill="#111">2.0</text>
<path d="M202.3 351.9V296.1H212.6V351.9" fill="none" stroke="#1c1c1c" stroke-width="0.85"/>
<path d="M207.45 290.7V301.4M204.85 290.7H210.05M204.85 301.4H210.05" fill="none" stroke="#2a2a2a" stroke-width="0.75"/>
<circle cx="207.7" cy="265.2" r="1.4" fill="none" stroke="#1c1c1c" stroke-width="0.85"/>
<circle cx="207.7" cy="271.8" r="1.4" fill="none" stroke="#1c1c1c" stroke-width="0.85"/>
<circle cx="207.7" cy="275.9" r="1.4" fill="none" stroke="#1c1c1c" stroke-width="0.85"/>
<circle cx="203.3" cy="286.6" r="1.4" fill="none" stroke="#1c1c1c" stroke-width="0.85"/>
<circle cx="207.7" cy="286.1" r="1.4" fill="none" stroke="#1c1c1c" stroke-width="0.85"/>
<circle cx="207.7" cy="289.9" r="1.4" fill="none" stroke="#1c1c1c" stroke-width="0.85"/>
<circle cx="207.7" cy="295.6" r="1.4" fill="none" stroke="#1c1c1c" stroke-width="0.85"/>
<circle cx="207.7" cy="299.7" r="1.4" fill="none" stroke="#1c1c1c" stroke-width="0.85"/>
<circle cx="211.8" cy="303" r="1.4" fill="none" stroke="#1c1c1c" stroke-width="0.85"/>
<circle cx="207.7" cy="305.1" r="1.4" fill="none" stroke="#1c1c1c" stroke-width="0.85"/>
<circle cx="211.8" cy="320.6" r="1.4" fill="none" stroke="#1c1c1c" stroke-width="0.85"/>
<circle cx="207.7" cy="322.7" r="1.4" fill="none" stroke="#1c1c1c" stroke-width="0.85"/>
<circle cx="207.7" cy="326.5" r="1.4" fill="none" stroke="#1c1c1c" stroke-width="0.85"/>
<path d="M218.4 351.9V300.5H229V351.9" fill="none" stroke="#e8322c" stroke-width="0.85"/>
<path d="M223.7 295.3V305.5M221.1 295.3H226.3M221.1 305.5H226.3" fill="none" stroke="#2a2a2a" stroke-width="0.75"/>
<circle cx="223.6" cy="251.8" r="1.4" fill="none" stroke="#e8322c" stroke-width="0.85"/>
<circle cx="223.6" cy="272.6" r="1.4" fill="none" stroke="#e8322c" stroke-width="0.85"/>
<circle cx="223.6" cy="290.2" r="1.4" fill="none" stroke="#e8322c" stroke-width="0.85"/>
<circle cx="223.6" cy="295.9" r="1.4" fill="none" stroke="#e8322c" stroke-width="0.85"/>
<circle cx="223.6" cy="300.9" r="1.4" fill="none" stroke="#e8322c" stroke-width="0.85"/>
<circle cx="220" cy="307.1" r="1.4" fill="none" stroke="#e8322c" stroke-width="0.85"/>
<circle cx="223.6" cy="306.3" r="1.4" fill="none" stroke="#e8322c" stroke-width="0.85"/>
<circle cx="227.4" cy="306.6" r="1.4" fill="none" stroke="#e8322c" stroke-width="0.85"/>
<circle cx="222.5" cy="311.2" r="1.4" fill="none" stroke="#e8322c" stroke-width="0.85"/>
<circle cx="225.4" cy="309.6" r="1.4" fill="none" stroke="#e8322c" stroke-width="0.85"/>
<circle cx="222.5" cy="327.1" r="1.4" fill="none" stroke="#e8322c" stroke-width="0.85"/>
<circle cx="225.4" cy="326.5" r="1.4" fill="none" stroke="#e8322c" stroke-width="0.85"/>
<path d="M246 351.9V295.9H256.5V351.9" fill="none" stroke="#1c1c1c" stroke-width="0.85"/>
<path d="M251.25 290.2V301.4M248.65 290.2H253.85M248.65 301.4H253.85" fill="none" stroke="#2a2a2a" stroke-width="0.75"/>
<circle cx="251.2" cy="266.9" r="1.4" fill="none" stroke="#1c1c1c" stroke-width="0.85"/>
<circle cx="251.2" cy="270.2" r="1.4" fill="none" stroke="#1c1c1c" stroke-width="0.85"/>
<circle cx="251.2" cy="273.4" r="1.4" fill="none" stroke="#1c1c1c" stroke-width="0.85"/>
<circle cx="247.1" cy="285.8" r="1.4" fill="none" stroke="#1c1c1c" stroke-width="0.85"/>
<circle cx="255.3" cy="286.2" r="1.4" fill="none" stroke="#1c1c1c" stroke-width="0.85"/>
<circle cx="251.2" cy="288.2" r="1.4" fill="none" stroke="#1c1c1c" stroke-width="0.85"/>
<circle cx="251.2" cy="292.3" r="1.4" fill="none" stroke="#1c1c1c" stroke-width="0.85"/>
<circle cx="251.2" cy="297.2" r="1.4" fill="none" stroke="#1c1c1c" stroke-width="0.85"/>
<circle cx="247.1" cy="305" r="1.4" fill="none" stroke="#1c1c1c" stroke-width="0.85"/>
<circle cx="251.2" cy="305.5" r="1.4" fill="none" stroke="#1c1c1c" stroke-width="0.85"/>
<circle cx="251.2" cy="320.2" r="1.4" fill="none" stroke="#1c1c1c" stroke-width="0.85"/>
<circle cx="251.2" cy="323.5" r="1.4" fill="none" stroke="#1c1c1c" stroke-width="0.85"/>
<circle cx="251.2" cy="326.5" r="1.4" fill="none" stroke="#1c1c1c" stroke-width="0.85"/>
<path d="M262.2 351.9V298.9H272.9V351.9" fill="none" stroke="#e8322c" stroke-width="0.85"/>
<path d="M267.55 293.1V304.1M264.95 293.1H270.15M264.95 304.1H270.15" fill="none" stroke="#2a2a2a" stroke-width="0.75"/>
<circle cx="267.6" cy="252.4" r="1.4" fill="none" stroke="#e8322c" stroke-width="0.85"/>
<circle cx="267.6" cy="269.7" r="1.4" fill="none" stroke="#e8322c" stroke-width="0.85"/>
<circle cx="267.6" cy="288.2" r="1.4" fill="none" stroke="#e8322c" stroke-width="0.85"/>
<circle cx="267.6" cy="290.7" r="1.4" fill="none" stroke="#e8322c" stroke-width="0.85"/>
<circle cx="263.9" cy="303" r="1.4" fill="none" stroke="#e8322c" stroke-width="0.85"/>
<circle cx="267.6" cy="302.2" r="1.4" fill="none" stroke="#e8322c" stroke-width="0.85"/>
<circle cx="271.3" cy="302.7" r="1.4" fill="none" stroke="#e8322c" stroke-width="0.85"/>
<circle cx="266" cy="305.5" r="1.4" fill="none" stroke="#e8322c" stroke-width="0.85"/>
<circle cx="269.3" cy="305.1" r="1.4" fill="none" stroke="#e8322c" stroke-width="0.85"/>
<circle cx="266" cy="308.7" r="1.4" fill="none" stroke="#e8322c" stroke-width="0.85"/>
<circle cx="269.3" cy="308.7" r="1.4" fill="none" stroke="#e8322c" stroke-width="0.85"/>
<circle cx="266.5" cy="324.8" r="1.4" fill="none" stroke="#e8322c" stroke-width="0.85"/>
<circle cx="269.3" cy="323.9" r="1.4" fill="none" stroke="#e8322c" stroke-width="0.85"/>
<line x1="205.6" y1="241.4" x2="224.5" y2="241.4" stroke="#4a4a4a" stroke-width="1.0"/>
<text x="215.05" y="238.4" font-size="6.4" text-anchor="middle" fill="#111">ns</text>
<line x1="249.6" y1="241.4" x2="268.5" y2="241.4" stroke="#4a4a4a" stroke-width="1.0"/>
<text x="259.05" y="238.4" font-size="6.4" text-anchor="middle" fill="#111">ns</text>
<text x="215.7" y="359" font-size="7.0" text-anchor="middle" fill="#111">Nd1</text>
<text x="259.5" y="359" font-size="7.0" text-anchor="middle" fill="#111">Nd6</text>
<text x="240.7" y="209" font-size="9.35" text-anchor="middle" fill="#111">Skeletal muscle</text>
<text x="166.7" y="293" font-size="9.3" text-anchor="middle" transform="rotate(-90 166.7 293)" fill="#111">mtDNA levels</text>
<text x="175.3" y="288.5" font-size="9.3" text-anchor="middle" transform="rotate(-90 175.3 288.5)" fill="#111">(% relative to controls)</text>
<circle cx="283.6" cy="238.9" r="1.75" fill="none" stroke="#1c1c1c" stroke-width="0.8"/>
<circle cx="283.6" cy="255" r="1.75" fill="none" stroke="#e8322c" stroke-width="0.8"/>
<text x="293.6" y="242" font-size="9.45" font-style="italic" fill="#111">Chchd2<tspan dx="2.8" dy="-4.0" font-size="6.4">+/+</tspan></text>
<text x="293.6" y="258.1" font-size="9.45" font-style="italic" fill="#111">Chchd2<tspan dx="1.2" dy="-4.0" font-size="6.4">-/-</tspan></text>
<line x1="400.7" y1="229" x2="400.7" y2="349.8" stroke="#1c1c1c" stroke-width="0.8"/>
<line x1="400.3" y1="349.4" x2="487.7" y2="349.4" stroke="#1c1c1c" stroke-width="0.8"/>
<line x1="398.5" y1="349.4" x2="400.7" y2="349.4" stroke="#1c1c1c" stroke-width="0.8"/>
<text x="397.6" y="352.2" font-size="7.0" text-anchor="end" fill="#111">0</text>
<line x1="398.5" y1="309.4" x2="400.7" y2="309.4" stroke="#1c1c1c" stroke-width="0.8"/>
<text x="397.6" y="312.2" font-size="7.0" text-anchor="end" fill="#111">1</text>
<line x1="398.5" y1="269.4" x2="400.7" y2="269.4" stroke="#1c1c1c" stroke-width="0.8"/>
<text x="397.6" y="272.2" font-size="7.0" text-anchor="end" fill="#111">2</text>
<line x1="398.5" y1="229.4" x2="400.7" y2="229.4" stroke="#1c1c1c" stroke-width="0.8"/>
<text x="397.6" y="232.2" font-size="7.0" text-anchor="end" fill="#111">3</text>
<path d="M406.5 349.4V310.7H413.6V349.4" fill="none" stroke="#1c1c1c" stroke-width="0.85"/>
<path d="M410.05 302V320M407.45 302H412.65M407.45 320H412.65" fill="none" stroke="#2a2a2a" stroke-width="0.75"/>
<circle cx="410.1" cy="243.7" r="1.4" fill="none" stroke="#1c1c1c" stroke-width="0.85"/>
<circle cx="410.1" cy="297" r="1.4" fill="none" stroke="#1c1c1c" stroke-width="0.85"/>
<circle cx="410.1" cy="302" r="1.4" fill="none" stroke="#1c1c1c" stroke-width="0.85"/>
<circle cx="410.1" cy="307.4" r="1.4" fill="none" stroke="#1c1c1c" stroke-width="0.85"/>
<circle cx="410.1" cy="314.4" r="1.4" fill="none" stroke="#1c1c1c" stroke-width="0.85"/>
<circle cx="408.1" cy="319.7" r="1.4" fill="none" stroke="#1c1c1c" stroke-width="0.85"/>
<circle cx="411.9" cy="320" r="1.4" fill="none" stroke="#1c1c1c" stroke-width="0.85"/>
<circle cx="410.1" cy="317.2" r="1.4" fill="none" stroke="#1c1c1c" stroke-width="0.85"/>
<circle cx="410.1" cy="327.9" r="1.4" fill="none" stroke="#1c1c1c" stroke-width="0.85"/>
<circle cx="410.1" cy="344" r="1.4" fill="none" stroke="#1c1c1c" stroke-width="0.85"/>
<path d="M417.5 349.4V298H424.9V349.4" fill="none" stroke="#e8322c" stroke-width="0.85"/>
<path d="M421.2 293.4V305.7M418.6 293.4H423.8M418.6 305.7H423.8" fill="none" stroke="#2a2a2a" stroke-width="0.75"/>
<circle cx="421.3" cy="244.5" r="1.4" fill="none" stroke="#e8322c" stroke-width="0.85"/>
<circle cx="421.3" cy="285.5" r="1.4" fill="none" stroke="#e8322c" stroke-width="0.85"/>
<circle cx="419.3" cy="299.7" r="1.4" fill="none" stroke="#e8322c" stroke-width="0.85"/>
<circle cx="423.2" cy="298" r="1.4" fill="none" stroke="#e8322c" stroke-width="0.85"/>
<circle cx="419.3" cy="304.9" r="1.4" fill="none" stroke="#e8322c" stroke-width="0.85"/>
<circle cx="423.2" cy="302.5" r="1.4" fill="none" stroke="#e8322c" stroke-width="0.85"/>
<circle cx="419.3" cy="310.2" r="1.4" fill="none" stroke="#e8322c" stroke-width="0.85"/>
<circle cx="423.2" cy="307.4" r="1.4" fill="none" stroke="#e8322c" stroke-width="0.85"/>
<circle cx="421.3" cy="314.4" r="1.4" fill="none" stroke="#e8322c" stroke-width="0.85"/>
<circle cx="421.3" cy="321.3" r="1.4" fill="none" stroke="#e8322c" stroke-width="0.85"/>
<path d="M435.2 349.4V309.5H442.6V349.4" fill="none" stroke="#1c1c1c" stroke-width="0.85"/>
<path d="M438.9 300.8V318.9M436.3 300.8H441.5M436.3 318.9H441.5" fill="none" stroke="#2a2a2a" stroke-width="0.75"/>
<circle cx="439.3" cy="249.4" r="1.4" fill="none" stroke="#1c1c1c" stroke-width="0.85"/>
<circle cx="439.3" cy="269.1" r="1.4" fill="none" stroke="#1c1c1c" stroke-width="0.85"/>
<circle cx="439.3" cy="289.3" r="1.4" fill="none" stroke="#1c1c1c" stroke-width="0.85"/>
<circle cx="439.3" cy="302" r="1.4" fill="none" stroke="#1c1c1c" stroke-width="0.85"/>
<circle cx="439.3" cy="307.4" r="1.4" fill="none" stroke="#1c1c1c" stroke-width="0.85"/>
<circle cx="439.3" cy="320" r="1.4" fill="none" stroke="#1c1c1c" stroke-width="0.85"/>
<circle cx="439.3" cy="326.3" r="1.4" fill="none" stroke="#1c1c1c" stroke-width="0.85"/>
<circle cx="436.9" cy="329.1" r="1.4" fill="none" stroke="#1c1c1c" stroke-width="0.85"/>
<circle cx="441.5" cy="329.1" r="1.4" fill="none" stroke="#1c1c1c" stroke-width="0.85"/>
<circle cx="439.3" cy="335.3" r="1.4" fill="none" stroke="#1c1c1c" stroke-width="0.85"/>
<circle cx="439.3" cy="346.3" r="1.4" fill="none" stroke="#1c1c1c" stroke-width="0.85"/>
<path d="M446.2 349.4V293.8H453.6V349.4" fill="none" stroke="#e8322c" stroke-width="0.85"/>
<path d="M449.9 287.7V300M447.3 287.7H452.5M447.3 300H452.5" fill="none" stroke="#2a2a2a" stroke-width="0.75"/>
<circle cx="450" cy="257.3" r="1.4" fill="none" stroke="#e8322c" stroke-width="0.85"/>
<circle cx="450" cy="271.8" r="1.4" fill="none" stroke="#e8322c" stroke-width="0.85"/>
<circle cx="450" cy="275.4" r="1.4" fill="none" stroke="#e8322c" stroke-width="0.85"/>
<circle cx="450" cy="287.7" r="1.4" fill="none" stroke="#e8322c" stroke-width="0.85"/>
<circle cx="450" cy="295.1" r="1.4" fill="none" stroke="#e8322c" stroke-width="0.85"/>
<circle cx="450" cy="298.4" r="1.4" fill="none" stroke="#e8322c" stroke-width="0.85"/>
<circle cx="450" cy="306.9" r="1.4" fill="none" stroke="#e8322c" stroke-width="0.85"/>
<circle cx="452.5" cy="306.1" r="1.4" fill="none" stroke="#e8322c" stroke-width="0.85"/>
<circle cx="450" cy="318.9" r="1.4" fill="none" stroke="#e8322c" stroke-width="0.85"/>
<circle cx="450" cy="330.4" r="1.4" fill="none" stroke="#e8322c" stroke-width="0.85"/>
<path d="M464.3 349.4V309.5H471.7V349.4" fill="none" stroke="#1c1c1c" stroke-width="0.85"/>
<path d="M468 300.8V318.6M465.4 300.8H470.6M465.4 318.6H470.6" fill="none" stroke="#2a2a2a" stroke-width="0.75"/>
<circle cx="468.1" cy="257.6" r="1.4" fill="none" stroke="#1c1c1c" stroke-width="0.85"/>
<circle cx="468.1" cy="270.1" r="1.4" fill="none" stroke="#1c1c1c" stroke-width="0.85"/>
<circle cx="468.1" cy="292.6" r="1.4" fill="none" stroke="#1c1c1c" stroke-width="0.85"/>
<circle cx="468.1" cy="299.7" r="1.4" fill="none" stroke="#1c1c1c" stroke-width="0.85"/>
<circle cx="468.1" cy="313.1" r="1.4" fill="none" stroke="#1c1c1c" stroke-width="0.85"/>
<circle cx="468.1" cy="318.9" r="1.4" fill="none" stroke="#1c1c1c" stroke-width="0.85"/>
<circle cx="468.1" cy="322.7" r="1.4" fill="none" stroke="#1c1c1c" stroke-width="0.85"/>
<circle cx="466" cy="325.4" r="1.4" fill="none" stroke="#1c1c1c" stroke-width="0.85"/>
<circle cx="470.2" cy="325.9" r="1.4" fill="none" stroke="#1c1c1c" stroke-width="0.85"/>
<circle cx="468.1" cy="331.2" r="1.4" fill="none" stroke="#1c1c1c" stroke-width="0.85"/>
<circle cx="468.1" cy="344.8" r="1.4" fill="none" stroke="#1c1c1c" stroke-width="0.85"/>
<path d="M475.5 349.4V298.4H482.5V349.4" fill="none" stroke="#e8322c" stroke-width="0.85"/>
<path d="M479 291V304.9M476.4 291H481.6M476.4 304.9H481.6" fill="none" stroke="#2a2a2a" stroke-width="0.75"/>
<circle cx="479.1" cy="256.5" r="1.4" fill="none" stroke="#e8322c" stroke-width="0.85"/>
<circle cx="479.1" cy="263.4" r="1.4" fill="none" stroke="#e8322c" stroke-width="0.85"/>
<circle cx="479.1" cy="282.3" r="1.4" fill="none" stroke="#e8322c" stroke-width="0.85"/>
<circle cx="479.1" cy="288.5" r="1.4" fill="none" stroke="#e8322c" stroke-width="0.85"/>
<circle cx="479.1" cy="302.5" r="1.4" fill="none" stroke="#e8322c" stroke-width="0.85"/>
<circle cx="477.1" cy="307.4" r="1.4" fill="none" stroke="#e8322c" stroke-width="0.85"/>
<circle cx="481.2" cy="305.7" r="1.4" fill="none" stroke="#e8322c" stroke-width="0.85"/>
<circle cx="477.1" cy="312.3" r="1.4" fill="none" stroke="#e8322c" stroke-width="0.85"/>
<circle cx="481.2" cy="310.7" r="1.4" fill="none" stroke="#e8322c" stroke-width="0.85"/>
<circle cx="479.1" cy="321" r="1.4" fill="none" stroke="#e8322c" stroke-width="0.85"/>
<circle cx="479.1" cy="326.3" r="1.4" fill="none" stroke="#e8322c" stroke-width="0.85"/>
<line x1="406.8" y1="231.5" x2="425.4" y2="231.5" stroke="#666" stroke-width="1.05"/>
<text x="416.1" y="228.5" font-size="6.4" text-anchor="middle" fill="#111">ns</text>
<line x1="434.9" y1="231.5" x2="453.6" y2="231.5" stroke="#666" stroke-width="1.05"/>
<text x="444.25" y="228.5" font-size="6.4" text-anchor="middle" fill="#111">ns</text>
<line x1="463.1" y1="231.5" x2="481.7" y2="231.5" stroke="#666" stroke-width="1.05"/>
<text x="472.4" y="228.5" font-size="6.4" text-anchor="middle" fill="#111">ns</text>
<text x="417.8" y="356.8" font-size="7.0" text-anchor="middle" fill="#111">Mt-co1</text>
<text x="445.4" y="356.8" font-size="7.0" text-anchor="middle" fill="#111">CytB</text>
<text x="473.2" y="356.8" font-size="7.0" text-anchor="middle" fill="#111">Nd1</text>
<text x="442.4" y="209" font-size="9.35" text-anchor="middle" fill="#111">Heart</text>
<text x="379.4" y="291" font-size="9.3" text-anchor="middle" transform="rotate(-90 379.4 291)" fill="#111">mtDNA transcripts</text>
<text x="388.4" y="288" font-size="9.3" text-anchor="middle" transform="rotate(-90 388.4 288)" fill="#111">(% relative to controls)</text>
<line x1="540.5" y1="229" x2="540.5" y2="349.8" stroke="#1c1c1c" stroke-width="0.8"/>
<line x1="540.1" y1="349.4" x2="628" y2="349.4" stroke="#1c1c1c" stroke-width="0.8"/>
<line x1="538.3" y1="349.4" x2="540.5" y2="349.4" stroke="#1c1c1c" stroke-width="0.8"/>
<text x="537.4" y="352.2" font-size="7.0" text-anchor="end" fill="#111">0</text>
<line x1="538.3" y1="309.4" x2="540.5" y2="309.4" stroke="#1c1c1c" stroke-width="0.8"/>
<text x="537.4" y="312.2" font-size="7.0" text-anchor="end" fill="#111">1</text>
<line x1="538.3" y1="269.4" x2="540.5" y2="269.4" stroke="#1c1c1c" stroke-width="0.8"/>
<text x="537.4" y="272.2" font-size="7.0" text-anchor="end" fill="#111">2</text>
<line x1="538.3" y1="229.4" x2="540.5" y2="229.4" stroke="#1c1c1c" stroke-width="0.8"/>
<text x="537.4" y="232.2" font-size="7.0" text-anchor="end" fill="#111">3</text>
<path d="M546.5 349.4V313.1H553.6V349.4" fill="none" stroke="#1c1c1c" stroke-width="0.85"/>
<path d="M550.05 307.9V318.1M547.45 307.9H552.65M547.45 318.1H552.65" fill="none" stroke="#2a2a2a" stroke-width="0.75"/>
<circle cx="549.8" cy="286.5" r="1.4" fill="none" stroke="#1c1c1c" stroke-width="0.85"/>
<circle cx="549.8" cy="294.2" r="1.4" fill="none" stroke="#1c1c1c" stroke-width="0.85"/>
<circle cx="549.8" cy="298" r="1.4" fill="none" stroke="#1c1c1c" stroke-width="0.85"/>
<circle cx="547.6" cy="305.7" r="1.4" fill="none" stroke="#1c1c1c" stroke-width="0.85"/>
<circle cx="551.9" cy="306.6" r="1.4" fill="none" stroke="#1c1c1c" stroke-width="0.85"/>
<circle cx="547.6" cy="314" r="1.4" fill="none" stroke="#1c1c1c" stroke-width="0.85"/>
<circle cx="551.9" cy="314.8" r="1.4" fill="none" stroke="#1c1c1c" stroke-width="0.85"/>
<circle cx="549.8" cy="316.9" r="1.4" fill="none" stroke="#1c1c1c" stroke-width="0.85"/>
<circle cx="549.8" cy="321.3" r="1.4" fill="none" stroke="#1c1c1c" stroke-width="0.85"/>
<circle cx="547.6" cy="326.3" r="1.4" fill="none" stroke="#1c1c1c" stroke-width="0.85"/>
<circle cx="551.9" cy="328.4" r="1.4" fill="none" stroke="#1c1c1c" stroke-width="0.85"/>
<circle cx="549.8" cy="342.7" r="1.4" fill="none" stroke="#1c1c1c" stroke-width="0.85"/>
<path d="M557.5 349.4V311.2H564.6V349.4" fill="none" stroke="#e8322c" stroke-width="0.85"/>
<path d="M561.05 305.3V316.7M558.45 305.3H563.65M558.45 316.7H563.65" fill="none" stroke="#2a2a2a" stroke-width="0.75"/>
<circle cx="560.8" cy="282.8" r="1.4" fill="none" stroke="#e8322c" stroke-width="0.85"/>
<circle cx="560.8" cy="292.3" r="1.4" fill="none" stroke="#e8322c" stroke-width="0.85"/>
<circle cx="560.8" cy="302.5" r="1.4" fill="none" stroke="#e8322c" stroke-width="0.85"/>
<circle cx="558.8" cy="307.4" r="1.4" fill="none" stroke="#e8322c" stroke-width="0.85"/>
<circle cx="562.9" cy="306.6" r="1.4" fill="none" stroke="#e8322c" stroke-width="0.85"/>
<circle cx="560.8" cy="309.8" r="1.4" fill="none" stroke="#e8322c" stroke-width="0.85"/>
<circle cx="560.8" cy="318.9" r="1.4" fill="none" stroke="#e8322c" stroke-width="0.85"/>
<circle cx="560.8" cy="337.4" r="1.4" fill="none" stroke="#e8322c" stroke-width="0.85"/>
<circle cx="560.8" cy="343" r="1.4" fill="none" stroke="#e8322c" stroke-width="0.85"/>
<path d="M574.9 349.4V314.8H582.3V349.4" fill="none" stroke="#1c1c1c" stroke-width="0.85"/>
<path d="M578.6 311.2V318.9M576 311.2H581.2M576 318.9H581.2" fill="none" stroke="#2a2a2a" stroke-width="0.75"/>
<circle cx="577.7" cy="294.2" r="1.4" fill="none" stroke="#1c1c1c" stroke-width="0.85"/>
<circle cx="580.2" cy="294.2" r="1.4" fill="none" stroke="#1c1c1c" stroke-width="0.85"/>
<circle cx="578.5" cy="306.9" r="1.4" fill="none" stroke="#1c1c1c" stroke-width="0.85"/>
<circle cx="576.9" cy="312.3" r="1.4" fill="none" stroke="#1c1c1c" stroke-width="0.85"/>
<circle cx="580.6" cy="312.3" r="1.4" fill="none" stroke="#1c1c1c" stroke-width="0.85"/>
<circle cx="578.5" cy="315.6" r="1.4" fill="none" stroke="#1c1c1c" stroke-width="0.85"/>
<circle cx="578.5" cy="318.9" r="1.4" fill="none" stroke="#1c1c1c" stroke-width="0.85"/>
<circle cx="576.9" cy="328.7" r="1.4" fill="none" stroke="#1c1c1c" stroke-width="0.85"/>
<circle cx="580.2" cy="329.6" r="1.4" fill="none" stroke="#1c1c1c" stroke-width="0.85"/>
<circle cx="578.5" cy="341" r="1.4" fill="none" stroke="#1c1c1c" stroke-width="0.85"/>
<path d="M585.9 349.4V309.5H593.3V349.4" fill="none" stroke="#e8322c" stroke-width="0.85"/>
<path d="M589.6 303.3V315.6M587 303.3H592.2M587 315.6H592.2" fill="none" stroke="#2a2a2a" stroke-width="0.75"/>
<circle cx="589.5" cy="266.3" r="1.4" fill="none" stroke="#e8322c" stroke-width="0.85"/>
<circle cx="589.5" cy="302" r="1.4" fill="none" stroke="#e8322c" stroke-width="0.85"/>
<circle cx="587.5" cy="306.9" r="1.4" fill="none" stroke="#e8322c" stroke-width="0.85"/>
<circle cx="591.7" cy="306.9" r="1.4" fill="none" stroke="#e8322c" stroke-width="0.85"/>
<circle cx="589.5" cy="310.7" r="1.4" fill="none" stroke="#e8322c" stroke-width="0.85"/>
<circle cx="589.5" cy="319.7" r="1.4" fill="none" stroke="#e8322c" stroke-width="0.85"/>
<circle cx="589.5" cy="330" r="1.4" fill="none" stroke="#e8322c" stroke-width="0.85"/>
<circle cx="589.5" cy="335.8" r="1.4" fill="none" stroke="#e8322c" stroke-width="0.85"/>
<path d="M604 349.4V316.1H611V349.4" fill="none" stroke="#1c1c1c" stroke-width="0.85"/>
<path d="M607.5 311.5V319.7M604.9 311.5H610.1M604.9 319.7H610.1" fill="none" stroke="#2a2a2a" stroke-width="0.75"/>
<circle cx="605.6" cy="297.5" r="1.4" fill="none" stroke="#1c1c1c" stroke-width="0.85"/>
<circle cx="610" cy="295.1" r="1.4" fill="none" stroke="#1c1c1c" stroke-width="0.85"/>
<circle cx="605.6" cy="304.1" r="1.4" fill="none" stroke="#1c1c1c" stroke-width="0.85"/>
<circle cx="610" cy="306.6" r="1.4" fill="none" stroke="#1c1c1c" stroke-width="0.85"/>
<circle cx="607.7" cy="311.5" r="1.4" fill="none" stroke="#1c1c1c" stroke-width="0.85"/>
<circle cx="605.6" cy="316.4" r="1.4" fill="none" stroke="#1c1c1c" stroke-width="0.85"/>
<circle cx="610" cy="315.6" r="1.4" fill="none" stroke="#1c1c1c" stroke-width="0.85"/>
<circle cx="607.7" cy="318.9" r="1.4" fill="none" stroke="#1c1c1c" stroke-width="0.85"/>
<circle cx="607.7" cy="326.6" r="1.4" fill="none" stroke="#1c1c1c" stroke-width="0.85"/>
<circle cx="607.7" cy="335.8" r="1.4" fill="none" stroke="#1c1c1c" stroke-width="0.85"/>
<circle cx="607.7" cy="344.8" r="1.4" fill="none" stroke="#1c1c1c" stroke-width="0.85"/>
<path d="M615 349.4V309H622V349.4" fill="none" stroke="#e8322c" stroke-width="0.85"/>
<path d="M618.5 304.1V313.1M615.9 304.1H621.1M615.9 313.1H621.1" fill="none" stroke="#2a2a2a" stroke-width="0.75"/>
<circle cx="618.7" cy="282.3" r="1.4" fill="none" stroke="#e8322c" stroke-width="0.85"/>
<circle cx="616.3" cy="302.5" r="1.4" fill="none" stroke="#e8322c" stroke-width="0.85"/>
<circle cx="619.6" cy="304.1" r="1.4" fill="none" stroke="#e8322c" stroke-width="0.85"/>
<circle cx="617.1" cy="307.4" r="1.4" fill="none" stroke="#e8322c" stroke-width="0.85"/>
<circle cx="621.2" cy="306.9" r="1.4" fill="none" stroke="#e8322c" stroke-width="0.85"/>
<circle cx="618.7" cy="310.7" r="1.4" fill="none" stroke="#e8322c" stroke-width="0.85"/>
<circle cx="617.1" cy="321.3" r="1.4" fill="none" stroke="#e8322c" stroke-width="0.85"/>
<circle cx="620.4" cy="321.3" r="1.4" fill="none" stroke="#e8322c" stroke-width="0.85"/>
<circle cx="618.7" cy="329.6" r="1.4" fill="none" stroke="#e8322c" stroke-width="0.85"/>
<line x1="547.6" y1="252" x2="566.2" y2="252" stroke="#8c8c8c" stroke-width="1.3"/>
<text x="556.9" y="248.6" font-size="6.4" text-anchor="middle" fill="#111">ns</text>
<line x1="574.9" y1="252" x2="593.6" y2="252" stroke="#8c8c8c" stroke-width="1.3"/>
<text x="584.25" y="248.6" font-size="6.4" text-anchor="middle" fill="#111">ns</text>
<line x1="602.3" y1="252" x2="620.9" y2="252" stroke="#8c8c8c" stroke-width="1.3"/>
<text x="611.6" y="248.6" font-size="6.4" text-anchor="middle" fill="#111">ns</text>
<text x="556.2" y="356.8" font-size="7.0" text-anchor="middle" fill="#111">Mt-co1</text>
<text x="584.7" y="356.8" font-size="7.0" text-anchor="middle" fill="#111">CytB</text>
<text x="612.6" y="356.8" font-size="7.0" text-anchor="middle" fill="#111">Nd1</text>
<text x="580" y="209" font-size="9.35" text-anchor="middle" fill="#111">Skeletal muscle</text>
<text x="519.2" y="291" font-size="9.3" text-anchor="middle" transform="rotate(-90 519.2 291)" fill="#111">mtDNA transcripts</text>
<text x="528.2" y="288" font-size="9.3" text-anchor="middle" transform="rotate(-90 528.2 288)" fill="#111">(% relative to controls)</text>
<circle cx="629" cy="218" r="1.75" fill="none" stroke="#1c1c1c" stroke-width="0.8"/>
<circle cx="629" cy="234.3" r="1.75" fill="none" stroke="#e8322c" stroke-width="0.8"/>
<text x="639" y="221.1" font-size="9.45" font-style="italic" fill="#111">Chchd2<tspan dx="3.2" dy="-3.6" font-size="6.0">+/+</tspan></text>
<text x="639" y="237.4" font-size="9.45" font-style="italic" fill="#111">Chchd2<tspan dx="1.6" dy="-3.8" font-size="6.0">-/-</tspan></text>
<line x1="44.1" y1="430.4" x2="44.1" y2="553.3" stroke="#1c1c1c" stroke-width="0.8"/>
<line x1="43.7" y1="552.9" x2="120.9" y2="552.9" stroke="#1c1c1c" stroke-width="0.8"/>
<line x1="41.9" y1="552.9" x2="44.1" y2="552.9" stroke="#1c1c1c" stroke-width="0.8"/>
<text x="40.4" y="555.82" font-size="7.3" text-anchor="end" fill="#111">0</text>
<line x1="41.9" y1="532.55" x2="44.1" y2="532.55" stroke="#1c1c1c" stroke-width="0.8"/>
<text x="40.4" y="535.47" font-size="7.3" text-anchor="end" fill="#111">1</text>
<line x1="41.9" y1="512.2" x2="44.1" y2="512.2" stroke="#1c1c1c" stroke-width="0.8"/>
<text x="40.4" y="515.12" font-size="7.3" text-anchor="end" fill="#111">2</text>
<line x1="41.9" y1="491.85" x2="44.1" y2="491.85" stroke="#1c1c1c" stroke-width="0.8"/>
<text x="40.4" y="494.77" font-size="7.3" text-anchor="end" fill="#111">3</text>
<line x1="41.9" y1="471.5" x2="44.1" y2="471.5" stroke="#1c1c1c" stroke-width="0.8"/>
<text x="40.4" y="474.42" font-size="7.3" text-anchor="end" fill="#111">4</text>
<line x1="41.9" y1="451.15" x2="44.1" y2="451.15" stroke="#1c1c1c" stroke-width="0.8"/>
<text x="40.4" y="454.07" font-size="7.3" text-anchor="end" fill="#111">5</text>
<line x1="41.9" y1="430.8" x2="44.1" y2="430.8" stroke="#1c1c1c" stroke-width="0.8"/>
<text x="40.4" y="433.72" font-size="7.3" text-anchor="end" fill="#111">6</text>
<path d="M51.5 552.9V533.4H61V552.9" fill="none" stroke="#1c1c1c" stroke-width="0.85"/>
<path d="M56.25 530.1V535.3M53.65 530.1H58.85M53.65 535.3H58.85" fill="none" stroke="#2a2a2a" stroke-width="0.75"/>
<circle cx="56.6" cy="526" r="1.4" fill="none" stroke="#1c1c1c" stroke-width="0.85"/>
<circle cx="53.1" cy="534.7" r="1.4" fill="none" stroke="#1c1c1c" stroke-width="0.85"/>
<circle cx="56.6" cy="533.4" r="1.4" fill="none" stroke="#1c1c1c" stroke-width="0.85"/>
<circle cx="59.3" cy="534.7" r="1.4" fill="none" stroke="#1c1c1c" stroke-width="0.85"/>
<path d="M66.2 552.9V524H75.8V552.9" fill="none" stroke="#e8322c" stroke-width="0.85"/>
<path d="M71 518.3V529.3M68.4 518.3H73.6M68.4 529.3H73.6" fill="none" stroke="#2a2a2a" stroke-width="0.75"/>
<circle cx="70.8" cy="502.7" r="1.4" fill="none" stroke="#e8322c" stroke-width="0.85"/>
<circle cx="67.6" cy="525.7" r="1.4" fill="none" stroke="#e8322c" stroke-width="0.85"/>
<circle cx="74.1" cy="524.3" r="1.4" fill="none" stroke="#e8322c" stroke-width="0.85"/>
<circle cx="70.8" cy="530.9" r="1.4" fill="none" stroke="#e8322c" stroke-width="0.85"/>
<circle cx="70.8" cy="533.9" r="1.4" fill="none" stroke="#e8322c" stroke-width="0.85"/>
<path d="M90.2 552.9V533.4H99.9V552.9" fill="none" stroke="#1c1c1c" stroke-width="0.85"/>
<path d="M95.05 529.3V536.7M92.45 529.3H97.65M92.45 536.7H97.65" fill="none" stroke="#2a2a2a" stroke-width="0.75"/>
<circle cx="95" cy="513.2" r="1.4" fill="none" stroke="#1c1c1c" stroke-width="0.85"/>
<circle cx="95" cy="522.2" r="1.4" fill="none" stroke="#1c1c1c" stroke-width="0.85"/>
<circle cx="95" cy="531.7" r="1.4" fill="none" stroke="#1c1c1c" stroke-width="0.85"/>
<circle cx="92.2" cy="537.5" r="1.4" fill="none" stroke="#1c1c1c" stroke-width="0.85"/>
<circle cx="95" cy="535.8" r="1.4" fill="none" stroke="#1c1c1c" stroke-width="0.85"/>
<circle cx="97.9" cy="537.5" r="1.4" fill="none" stroke="#1c1c1c" stroke-width="0.85"/>
<circle cx="95" cy="539.9" r="1.4" fill="none" stroke="#1c1c1c" stroke-width="0.85"/>
<circle cx="95" cy="542.7" r="1.4" fill="none" stroke="#1c1c1c" stroke-width="0.85"/>
<path d="M104.5 552.9V504.3H114V552.9" fill="none" stroke="#e8322c" stroke-width="0.85"/>
<path d="M109.25 492.3V515.3M106.65 492.3H111.85M106.65 515.3H111.85" fill="none" stroke="#2a2a2a" stroke-width="0.75"/>
<circle cx="109.4" cy="450.9" r="1.4" fill="none" stroke="#e8322c" stroke-width="0.85"/>
<circle cx="109.4" cy="471.8" r="1.4" fill="none" stroke="#e8322c" stroke-width="0.85"/>
<circle cx="109.4" cy="509.9" r="1.4" fill="none" stroke="#e8322c" stroke-width="0.85"/>
<circle cx="109.4" cy="516.1" r="1.4" fill="none" stroke="#e8322c" stroke-width="0.85"/>
<circle cx="109.4" cy="522.2" r="1.4" fill="none" stroke="#e8322c" stroke-width="0.85"/>
<circle cx="105.8" cy="528.4" r="1.4" fill="none" stroke="#e8322c" stroke-width="0.85"/>
<circle cx="113" cy="527.1" r="1.4" fill="none" stroke="#e8322c" stroke-width="0.85"/>
<line x1="53.6" y1="480.3" x2="70.8" y2="480.3" stroke="#4a4a4a" stroke-width="1.0"/>
<text x="62.2" y="477.3" font-size="6.4" text-anchor="middle" fill="#111">ns</text>
<text x="63.8" y="560.5" font-size="7.3" text-anchor="middle" fill="#111">6</text>
<text x="102" y="560.5" font-size="7.3" text-anchor="middle" fill="#111">12</text>
<line x1="92.2" y1="445.5" x2="109.8" y2="445.5" stroke="#222" stroke-width="0.9"/>
<text x="101" y="447.6" font-size="13.5" text-anchor="middle" fill="#111">*</text>
<text x="78.7" y="571" font-size="7.2" text-anchor="middle" fill="#111">months</text>
<text x="77.2" y="412.8" font-size="9.35" text-anchor="middle" fill="#111">Heart</text>
<text x="21.4" y="494.8" font-size="9.3" text-anchor="middle" transform="rotate(-90 21.4 494.8)" fill="#111"><tspan font-style="italic">Mthfd2</tspan><tspan dx="5.2">transcripts</tspan></text>
<text x="30.3" y="494.2" font-size="9.3" text-anchor="middle" transform="rotate(-90 30.3 494.2)" fill="#111">(% relative to controls)</text>
<line x1="166.2" y1="430.4" x2="166.2" y2="553.3" stroke="#1c1c1c" stroke-width="0.8"/>
<line x1="165.8" y1="552.9" x2="243.7" y2="552.9" stroke="#1c1c1c" stroke-width="0.8"/>
<line x1="164" y1="552.9" x2="166.2" y2="552.9" stroke="#1c1c1c" stroke-width="0.8"/>
<text x="162.5" y="555.82" font-size="7.3" text-anchor="end" fill="#111">0</text>
<line x1="164" y1="532.55" x2="166.2" y2="532.55" stroke="#1c1c1c" stroke-width="0.8"/>
<text x="162.5" y="535.47" font-size="7.3" text-anchor="end" fill="#111">1</text>
<line x1="164" y1="512.2" x2="166.2" y2="512.2" stroke="#1c1c1c" stroke-width="0.8"/>
<text x="162.5" y="515.12" font-size="7.3" text-anchor="end" fill="#111">2</text>
<line x1="164" y1="491.85" x2="166.2" y2="491.85" stroke="#1c1c1c" stroke-width="0.8"/>
<text x="162.5" y="494.77" font-size="7.3" text-anchor="end" fill="#111">3</text>
<line x1="164" y1="471.5" x2="166.2" y2="471.5" stroke="#1c1c1c" stroke-width="0.8"/>
<text x="162.5" y="474.42" font-size="7.3" text-anchor="end" fill="#111">4</text>
<line x1="164" y1="451.15" x2="166.2" y2="451.15" stroke="#1c1c1c" stroke-width="0.8"/>
<text x="162.5" y="454.07" font-size="7.3" text-anchor="end" fill="#111">5</text>
<line x1="164" y1="430.8" x2="166.2" y2="430.8" stroke="#1c1c1c" stroke-width="0.8"/>
<text x="162.5" y="433.72" font-size="7.3" text-anchor="end" fill="#111">6</text>
<path d="M174.3 552.9V532.9H183.8V552.9" fill="none" stroke="#1c1c1c" stroke-width="0.85"/>
<path d="M179.05 526.3V538.6M176.45 526.3H181.65M176.45 538.6H181.65" fill="none" stroke="#2a2a2a" stroke-width="0.75"/>
<circle cx="175.1" cy="519.9" r="1.4" fill="none" stroke="#1c1c1c" stroke-width="0.85"/>
<circle cx="182.2" cy="522.2" r="1.4" fill="none" stroke="#1c1c1c" stroke-width="0.85"/>
<circle cx="178.6" cy="526.5" r="1.4" fill="none" stroke="#1c1c1c" stroke-width="0.85"/>
<circle cx="175.1" cy="547" r="1.4" fill="none" stroke="#1c1c1c" stroke-width="0.85"/>
<circle cx="182.2" cy="546.5" r="1.4" fill="none" stroke="#1c1c1c" stroke-width="0.85"/>
<path d="M188.2 552.9V523.5H197.8V552.9" fill="none" stroke="#e8322c" stroke-width="0.85"/>
<path d="M193 511.2V535.3M190.4 511.2H195.6M190.4 535.3H195.6" fill="none" stroke="#2a2a2a" stroke-width="0.75"/>
<circle cx="193.2" cy="486.2" r="1.4" fill="none" stroke="#e8322c" stroke-width="0.85"/>
<circle cx="193.2" cy="503.3" r="1.4" fill="none" stroke="#e8322c" stroke-width="0.85"/>
<circle cx="193.2" cy="538.3" r="1.4" fill="none" stroke="#e8322c" stroke-width="0.85"/>
<circle cx="189.6" cy="545.4" r="1.4" fill="none" stroke="#e8322c" stroke-width="0.85"/>
<circle cx="196.6" cy="542.9" r="1.4" fill="none" stroke="#e8322c" stroke-width="0.85"/>
<path d="M212.5 552.9V532.9H221.9V552.9" fill="none" stroke="#1c1c1c" stroke-width="0.85"/>
<path d="M217.2 528V537.5M214.6 528H219.8M214.6 537.5H219.8" fill="none" stroke="#2a2a2a" stroke-width="0.75"/>
<circle cx="215.8" cy="509.9" r="1.4" fill="none" stroke="#1c1c1c" stroke-width="0.85"/>
<circle cx="219.1" cy="507.9" r="1.4" fill="none" stroke="#1c1c1c" stroke-width="0.85"/>
<circle cx="217" cy="533.4" r="1.4" fill="none" stroke="#1c1c1c" stroke-width="0.85"/>
<circle cx="217" cy="536.7" r="1.4" fill="none" stroke="#1c1c1c" stroke-width="0.85"/>
<circle cx="214.2" cy="539.9" r="1.4" fill="none" stroke="#1c1c1c" stroke-width="0.85"/>
<circle cx="219.9" cy="538.3" r="1.4" fill="none" stroke="#1c1c1c" stroke-width="0.85"/>
<circle cx="217" cy="541.9" r="1.4" fill="none" stroke="#1c1c1c" stroke-width="0.85"/>
<circle cx="219.9" cy="541.3" r="1.4" fill="none" stroke="#1c1c1c" stroke-width="0.85"/>
<circle cx="217" cy="545.4" r="1.4" fill="none" stroke="#1c1c1c" stroke-width="0.85"/>
<path d="M227 552.9V515.6H236.7V552.9" fill="none" stroke="#e8322c" stroke-width="0.85"/>
<path d="M231.85 509.6V523.5M229.25 509.6H234.45M229.25 523.5H234.45" fill="none" stroke="#2a2a2a" stroke-width="0.75"/>
<circle cx="231.8" cy="492.3" r="1.4" fill="none" stroke="#e8322c" stroke-width="0.85"/>
<circle cx="231.8" cy="504.6" r="1.4" fill="none" stroke="#e8322c" stroke-width="0.85"/>
<circle cx="228.1" cy="517.3" r="1.4" fill="none" stroke="#e8322c" stroke-width="0.85"/>
<circle cx="235" cy="516.1" r="1.4" fill="none" stroke="#e8322c" stroke-width="0.85"/>
<circle cx="228.1" cy="535.3" r="1.4" fill="none" stroke="#e8322c" stroke-width="0.85"/>
<circle cx="235" cy="535.3" r="1.4" fill="none" stroke="#e8322c" stroke-width="0.85"/>
<line x1="171.2" y1="470.2" x2="194.5" y2="470.2" stroke="#4a4a4a" stroke-width="1.0"/>
<text x="182.85" y="467.2" font-size="6.4" text-anchor="middle" fill="#111">ns</text>
<text x="186" y="560.5" font-size="7.3" text-anchor="middle" fill="#111">6</text>
<text x="225.3" y="560.5" font-size="7.3" text-anchor="middle" fill="#111">12</text>
<line x1="216.7" y1="470.5" x2="240" y2="470.5" stroke="#333" stroke-width="0.8"/>
<text x="227.8" y="468.9" font-size="5.8" text-anchor="middle" fill="#111">p = 0.0693</text>
<text x="206" y="571" font-size="7.2" text-anchor="middle" fill="#111">months</text>
<text x="204.4" y="411.8" font-size="9.35" text-anchor="middle" fill="#111">Skeletal muscle</text>
<text x="143.4" y="494.8" font-size="9.3" text-anchor="middle" transform="rotate(-90 143.4 494.8)" fill="#111"><tspan font-style="italic">Mthfd2</tspan><tspan dx="5.2">transcripts</tspan></text>
<text x="152.3" y="494.2" font-size="9.3" text-anchor="middle" transform="rotate(-90 152.3 494.2)" fill="#111">(% relative to controls)</text>
<circle cx="260.6" cy="427.9" r="1.75" fill="none" stroke="#1c1c1c" stroke-width="0.8"/>
<circle cx="260.6" cy="444" r="1.75" fill="none" stroke="#e8322c" stroke-width="0.8"/>
<text x="270.7" y="431" font-size="9.45" font-style="italic" fill="#111">Chchd2<tspan dx="0.4" dy="-1.6" font-size="8.9">+/+</tspan></text>
<text x="270.7" y="447.1" font-size="9.45" font-style="italic" fill="#111">Chchd2<tspan dx="1.8" dy="-4.4" font-size="8.9">-/-</tspan></text>
<line x1="48.7" y1="654.6" x2="48.7" y2="766.6" stroke="#1c1c1c" stroke-width="0.8"/>
<line x1="48.3" y1="766.2" x2="105.1" y2="766.2" stroke="#1c1c1c" stroke-width="0.8"/>
<line x1="46.5" y1="766.2" x2="48.7" y2="766.2" stroke="#1c1c1c" stroke-width="0.8"/>
<text x="45.4" y="769" font-size="7.0" text-anchor="end" fill="#111">0</text>
<line x1="46.5" y1="729.13" x2="48.7" y2="729.13" stroke="#1c1c1c" stroke-width="0.8"/>
<text x="45.4" y="731.93" font-size="7.0" text-anchor="end" fill="#111">1</text>
<line x1="46.5" y1="692.07" x2="48.7" y2="692.07" stroke="#1c1c1c" stroke-width="0.8"/>
<text x="45.4" y="694.87" font-size="7.0" text-anchor="end" fill="#111">2</text>
<line x1="46.5" y1="655" x2="48.7" y2="655" stroke="#1c1c1c" stroke-width="0.8"/>
<text x="45.4" y="657.8" font-size="7.0" text-anchor="end" fill="#111">3</text>
<path d="M59.1 766.2V729.13H72.9V766.2" fill="none" stroke="#1c1c1c" stroke-width="0.85"/>
<path d="M66 724.2V734.6M62.4 724.2H69.6M62.4 734.6H69.6" fill="none" stroke="#2a2a2a" stroke-width="0.75"/>
<circle cx="66.2" cy="715.2" r="1.3" fill="none" stroke="#1c1c1c" stroke-width="0.85"/>
<circle cx="66.2" cy="723.8" r="1.3" fill="none" stroke="#1c1c1c" stroke-width="0.85"/>
<circle cx="66.2" cy="728.3" r="1.3" fill="none" stroke="#1c1c1c" stroke-width="0.85"/>
<circle cx="66.2" cy="735" r="1.3" fill="none" stroke="#1c1c1c" stroke-width="0.85"/>
<circle cx="66.2" cy="744.6" r="1.3" fill="none" stroke="#1c1c1c" stroke-width="0.85"/>
<path d="M80.3 766.2V697.2H94.4V766.2" fill="none" stroke="#e8322c" stroke-width="0.85"/>
<path d="M87.35 689V704.4M83.75 689H90.95M83.75 704.4H90.95" fill="none" stroke="#2a2a2a" stroke-width="0.75"/>
<rect x="86.25" y="676.25" width="2.3" height="2.3" rx="0.5" fill="none" stroke="#e8322c" stroke-width="0.85"/>
<rect x="86.25" y="688.35" width="2.3" height="2.3" rx="0.5" fill="none" stroke="#e8322c" stroke-width="0.85"/>
<rect x="86.25" y="690.35" width="2.3" height="2.3" rx="0.5" fill="none" stroke="#e8322c" stroke-width="0.85"/>
<rect x="86.25" y="700.75" width="2.3" height="2.3" rx="0.5" fill="none" stroke="#e8322c" stroke-width="0.85"/>
<rect x="86.25" y="721.25" width="2.3" height="2.3" rx="0.5" fill="none" stroke="#e8322c" stroke-width="0.85"/>
<line x1="66.2" y1="667.6" x2="88" y2="667.6" stroke="#222" stroke-width="0.9"/>
<text x="76.9" y="668.8" font-size="13.5" text-anchor="middle" fill="#111">*</text>
<text x="82.3" y="639.8" font-size="9.35" text-anchor="middle" fill="#111">Heart</text>
<text x="27.2" y="713.4" font-size="9.3" text-anchor="middle" transform="rotate(-90 27.2 713.4)" fill="#111">Lipidic structures</text>
<text x="34.9" y="711.1" font-size="9.3" text-anchor="middle" transform="rotate(-90 34.9 711.1)" fill="#111">(relative to controls)</text>
<circle cx="114" cy="658.7" r="1.75" fill="none" stroke="#1c1c1c" stroke-width="0.8"/>
<rect x="112.45" y="673.25" width="3.1" height="3.1" rx="0.5" fill="none" stroke="#e8322c" stroke-width="0.8"/>
<text x="123.8" y="661.8" font-size="9.45" font-style="italic" fill="#111">Chchd2<tspan dx="2.0" dy="-4.0" font-size="8.8">+/+</tspan></text>
<text x="123.8" y="677.9" font-size="9.45" font-style="italic" fill="#111">Chchd2<tspan dx="0.5" dy="-4.4" font-size="8.8">-/-</tspan></text>
<line x1="527.2" y1="668.7" x2="527.2" y2="777.7" stroke="#1c1c1c" stroke-width="0.8"/>
<line x1="526.8" y1="777.3" x2="582.2" y2="777.3" stroke="#1c1c1c" stroke-width="0.8"/>
<line x1="525.2" y1="777.3" x2="527.2" y2="777.3" stroke="#1c1c1c" stroke-width="0.8"/>
<text x="524.3" y="780.02" font-size="6.8" text-anchor="end" fill="#111">0</text>
<line x1="525.2" y1="755.66" x2="527.2" y2="755.66" stroke="#1c1c1c" stroke-width="0.8"/>
<text x="524.3" y="758.38" font-size="6.8" text-anchor="end" fill="#111">20</text>
<line x1="525.2" y1="734.02" x2="527.2" y2="734.02" stroke="#1c1c1c" stroke-width="0.8"/>
<text x="524.3" y="736.74" font-size="6.8" text-anchor="end" fill="#111">40</text>
<line x1="525.2" y1="712.38" x2="527.2" y2="712.38" stroke="#1c1c1c" stroke-width="0.8"/>
<text x="524.3" y="715.1" font-size="6.8" text-anchor="end" fill="#111">60</text>
<line x1="525.2" y1="690.74" x2="527.2" y2="690.74" stroke="#1c1c1c" stroke-width="0.8"/>
<text x="524.3" y="693.46" font-size="6.8" text-anchor="end" fill="#111">80</text>
<line x1="525.2" y1="669.1" x2="527.2" y2="669.1" stroke="#1c1c1c" stroke-width="0.8"/>
<text x="524.3" y="671.82" font-size="6.8" text-anchor="end" fill="#111">100</text>
<path d="M537.6 777.3V747.2H551.6V777.3" fill="none" stroke="#1c1c1c" stroke-width="0.85"/>
<path d="M544.6 737.1V757.2M541.2 737.1H548M541.2 757.2H548" fill="none" stroke="#2a2a2a" stroke-width="0.75"/>
<circle cx="544.5" cy="717.5" r="1.3" fill="none" stroke="#1c1c1c" stroke-width="0.85"/>
<circle cx="541.9" cy="741.3" r="1.3" fill="none" stroke="#1c1c1c" stroke-width="0.85"/>
<circle cx="546.8" cy="741.3" r="1.3" fill="none" stroke="#1c1c1c" stroke-width="0.85"/>
<circle cx="544.5" cy="756.9" r="1.3" fill="none" stroke="#1c1c1c" stroke-width="0.85"/>
<circle cx="544.5" cy="777.2" r="1.3" fill="none" stroke="#1c1c1c" stroke-width="0.85"/>
<path d="M558.3 777.3V705.3H571.9V777.3" fill="none" stroke="#e8322c" stroke-width="0.85"/>
<path d="M565.1 692.4V718M561.7 692.4H568.5M561.7 718H568.5" fill="none" stroke="#2a2a2a" stroke-width="0.75"/>
<circle cx="565.4" cy="677.7" r="1.3" fill="none" stroke="#e8322c" stroke-width="0.85"/>
<circle cx="565.4" cy="682.2" r="1.3" fill="none" stroke="#e8322c" stroke-width="0.85"/>
<circle cx="565.4" cy="702.5" r="1.3" fill="none" stroke="#e8322c" stroke-width="0.85"/>
<circle cx="565.4" cy="714.1" r="1.3" fill="none" stroke="#e8322c" stroke-width="0.85"/>
<circle cx="565.4" cy="748.6" r="1.3" fill="none" stroke="#e8322c" stroke-width="0.85"/>
<line x1="541.9" y1="672.4" x2="563.6" y2="672.4" stroke="#222" stroke-width="0.9"/>
<text x="552.7" y="673.6" font-size="12" text-anchor="middle" font-weight="bold" fill="#111">*</text>
<text x="556" y="639.4" font-size="9.35" text-anchor="middle" fill="#111">Skeletal muscle</text>
<text x="502.4" y="719" font-size="9.3" text-anchor="middle" transform="rotate(-90 502.4 719)" fill="#111">Sarcomere alterations</text>
<text x="510.3" y="718" font-size="9.3" text-anchor="middle" transform="rotate(-90 510.3 718)" fill="#111">(% relative to controls)</text>
<circle cx="593.1" cy="658.1" r="1.75" fill="none" stroke="#1c1c1c" stroke-width="0.8"/>
<circle cx="593.1" cy="674.5" r="1.75" fill="none" stroke="#e8322c" stroke-width="0.8"/>
<text x="600.1" y="661.2" font-size="9.45" font-style="italic" fill="#111">Chchd2<tspan dx="2.0" dy="-4.2" font-size="8.8">+/+</tspan></text>
<text x="600.1" y="677.6" font-size="9.45" font-style="italic" fill="#111">Chchd2<tspan dx="2.4" dy="-4.8" font-size="8.8">-/-</tspan></text>
<rect x="378.9" y="402.1" width="260.0" height="1.6" fill="#a4a4a4"/>
<text x="508.9" y="398.8" font-size="9.4" text-anchor="middle" fill="#111">Heart</text>
<g transform="translate(378.9 405.8) scale(1.0113 1.0048)"><g clip-path="url(#cp)"><rect x="-2" y="-2" width="88" height="88" fill="#9c9c9c"/><g transform="rotate(-34.5 42 42)" stroke="#2c2c2c" stroke-width="1.15" opacity="0.85"><line x1="-80" y1="-108.8" x2="170" y2="-108.8"/><line x1="-80" y1="-101.9" x2="170" y2="-101.9"/><line x1="-80" y1="-95" x2="170" y2="-95"/><line x1="-80" y1="-88.1" x2="170" y2="-88.1"/><line x1="-80" y1="-81.2" x2="170" y2="-81.2"/><line x1="-80" y1="-74.3" x2="170" y2="-74.3"/><line x1="-80" y1="-67.4" x2="170" y2="-67.4"/><line x1="-80" y1="-60.5" x2="170" y2="-60.5"/><line x1="-80" y1="-53.6" x2="170" y2="-53.6"/><line x1="-80" y1="-46.7" x2="170" y2="-46.7"/><line x1="-80" y1="-39.8" x2="170" y2="-39.8"/><line x1="-80" y1="-32.9" x2="170" y2="-32.9"/><line x1="-80" y1="-26" x2="170" y2="-26"/><line x1="-80" y1="-19.1" x2="170" y2="-19.1"/><line x1="-80" y1="-12.2" x2="170" y2="-12.2"/><line x1="-80" y1="-5.3" x2="170" y2="-5.3"/><line x1="-80" y1="1.6" x2="170" y2="1.6"/><line x1="-80" y1="8.5" x2="170" y2="8.5"/><line x1="-80" y1="15.4" x2="170" y2="15.4"/><line x1="-80" y1="22.3" x2="170" y2="22.3"/><line x1="-80" y1="29.2" x2="170" y2="29.2"/><line x1="-80" y1="36.1" x2="170" y2="36.1"/><line x1="-80" y1="43" x2="170" y2="43"/><line x1="-80" y1="49.9" x2="170" y2="49.9"/><line x1="-80" y1="56.8" x2="170" y2="56.8"/><line x1="-80" y1="63.7" x2="170" y2="63.7"/><line x1="-80" y1="70.6" x2="170" y2="70.6"/><line x1="-80" y1="77.5" x2="170" y2="77.5"/><line x1="-80" y1="84.4" x2="170" y2="84.4"/><line x1="-80" y1="91.3" x2="170" y2="91.3"/><line x1="-80" y1="98.2" x2="170" y2="98.2"/><line x1="-80" y1="105.1" x2="170" y2="105.1"/><line x1="-80" y1="112" x2="170" y2="112"/><line x1="-80" y1="118.9" x2="170" y2="118.9"/><line x1="-80" y1="125.8" x2="170" y2="125.8"/><line x1="-80" y1="132.7" x2="170" y2="132.7"/><line x1="-80" y1="139.6" x2="170" y2="139.6"/><line x1="-80" y1="146.5" x2="170" y2="146.5"/><line x1="-80" y1="153.4" x2="170" y2="153.4"/><line x1="-80" y1="160.3" x2="170" y2="160.3"/><line x1="-80" y1="167.2" x2="170" y2="167.2"/><line x1="-80" y1="174.1" x2="170" y2="174.1"/><line x1="-80" y1="181" x2="170" y2="181"/><line x1="-80" y1="187.9" x2="170" y2="187.9"/></g><g fill="#666666" opacity="0.95" filter="url(#b05)"><circle cx="4.75" cy="5.12" r="3.69"/><circle cx="7.71" cy="9.27" r="3.86"/><circle cx="8.7" cy="12.98" r="3.89"/><circle cx="13.89" cy="18.48" r="2.79"/><circle cx="15.65" cy="20.58" r="3.36"/><circle cx="17.87" cy="23.36" r="2.93"/><circle cx="19.5" cy="28.25" r="3.65"/><circle cx="21.41" cy="31.51" r="2.82"/><circle cx="23.74" cy="33.67" r="2.64"/><circle cx="25.74" cy="37.04" r="2.92"/><circle cx="27.52" cy="41.33" r="3.02"/><circle cx="29.59" cy="43.95" r="3.53"/><circle cx="30.48" cy="47.74" r="3.55"/><circle cx="34.1" cy="50.77" r="3.03"/><circle cx="35.53" cy="52.7" r="2.83"/><circle cx="37.15" cy="55.72" r="3.44"/><circle cx="39.16" cy="59.12" r="3.09"/><circle cx="43.85" cy="64.85" r="3.27"/><circle cx="45.91" cy="67.41" r="3.57"/><circle cx="47.54" cy="71.3" r="2.67"/><circle cx="51.45" cy="77.39" r="2.66"/><circle cx="53.61" cy="79.82" r="3.4"/><circle cx="55.25" cy="83.24" r="3.3"/><circle cx="7.06" cy="1.54" r="2.88"/><circle cx="11.03" cy="5.93" r="3.64"/><circle cx="13.44" cy="11.27" r="3.09"/><circle cx="16.72" cy="15.4" r="3.66"/><circle cx="18.37" cy="18.91" r="3.69"/><circle cx="21.63" cy="20.92" r="3.89"/><circle cx="22.5" cy="24.86" r="3.45"/><circle cx="25.92" cy="28.31" r="3.86"/><circle cx="26.92" cy="31.5" r="3.06"/><circle cx="27.93" cy="34.35" r="2.84"/><circle cx="30.35" cy="39.06" r="2.85"/><circle cx="31.43" cy="42.19" r="3.34"/><circle cx="34.1" cy="44.14" r="3.42"/><circle cx="37.17" cy="47.59" r="3.2"/><circle cx="38.34" cy="51.43" r="2.68"/><circle cx="41.14" cy="54.1" r="2.81"/><circle cx="43.62" cy="57.08" r="3.47"/><circle cx="47.91" cy="61.23" r="3.21"/><circle cx="48.94" cy="65.51" r="3.03"/><circle cx="51.48" cy="68.86" r="3.76"/><circle cx="55.11" cy="74.29" r="3.28"/><circle cx="56.82" cy="77.53" r="3.02"/><circle cx="58.55" cy="80.76" r="3.3"/><circle cx="1.85" cy="22.06" r="2.85"/><circle cx="4.78" cy="28.86" r="3.15"/><circle cx="4.7" cy="31.37" r="2.51"/><circle cx="5.04" cy="35.58" r="3.44"/><circle cx="7.98" cy="41.08" r="3.33"/><circle cx="10.61" cy="44.39" r="3.31"/><circle cx="12.18" cy="47.95" r="2.74"/><circle cx="15.13" cy="50.81" r="3.23"/><circle cx="17.57" cy="53.84" r="3.18"/><circle cx="20.13" cy="55.84" r="3.06"/><circle cx="21.7" cy="60.4" r="2.96"/><circle cx="23.66" cy="63.81" r="3.36"/><circle cx="23.96" cy="67.26" r="3.29"/><circle cx="26.88" cy="69.84" r="3.41"/><circle cx="29.09" cy="73.43" r="3.57"/><circle cx="31.23" cy="77.15" r="3.04"/><circle cx="32.5" cy="81.12" r="3"/><circle cx="4.47" cy="20.91" r="3.52"/><circle cx="6.96" cy="26.18" r="3.26"/><circle cx="8.07" cy="28.85" r="3.34"/><circle cx="8.53" cy="33.14" r="2.9"/><circle cx="11.4" cy="38.81" r="3.16"/><circle cx="13.65" cy="41.12" r="2.59"/><circle cx="15.31" cy="45.62" r="2.66"/><circle cx="18.45" cy="48.33" r="2.45"/><circle cx="20.85" cy="50.44" r="2.46"/><circle cx="22.41" cy="54.08" r="2.62"/><circle cx="24.61" cy="57.13" r="2.96"/><circle cx="25.96" cy="61.5" r="3.11"/><circle cx="26.78" cy="65.42" r="2.4"/><circle cx="29.2" cy="67.47" r="2.89"/><circle cx="30.88" cy="71.41" r="2.85"/><circle cx="32.76" cy="75.06" r="2.51"/><circle cx="35.5" cy="78.88" r="3"/><circle cx="55.17" cy="3.19" r="3.72"/><circle cx="61.33" cy="8.06" r="3.48"/><circle cx="66.7" cy="11.98" r="3.41"/><circle cx="68.38" cy="14.7" r="3.69"/><circle cx="72.43" cy="18.1" r="3.76"/><circle cx="75.66" cy="23.48" r="2.88"/><circle cx="77.32" cy="26.41" r="3.77"/><circle cx="79.43" cy="29.96" r="4.16"/><circle cx="81.4" cy="36.75" r="3.6"/><circle cx="58.5" cy="0.64" r="3.21"/><circle cx="63.87" cy="5.61" r="3.43"/><circle cx="70.54" cy="9.71" r="3.74"/><circle cx="72.17" cy="12.62" r="3.59"/><circle cx="75.16" cy="14.36" r="4.3"/><circle cx="79.49" cy="19.81" r="3.57"/><circle cx="80.95" cy="23.79" r="3.52"/><circle cx="83.27" cy="27.5" r="4.07"/><circle cx="85" cy="34.05" r="3.6"/><circle cx="37.62" cy="7.25" r="2.91"/><circle cx="41.3" cy="10.55" r="2.87"/><circle cx="42.43" cy="12.45" r="3.83"/><circle cx="45.22" cy="15.92" r="3.17"/><circle cx="48.53" cy="18.67" r="3.51"/><circle cx="49.79" cy="22.42" r="2.94"/><circle cx="52.55" cy="25.24" r="2.94"/><circle cx="54.65" cy="28.19" r="3.02"/><circle cx="56.7" cy="31" r="3.2"/><circle cx="41.99" cy="4.95" r="2.61"/><circle cx="43.4" cy="7.63" r="3.73"/><circle cx="46.62" cy="10.67" r="2.58"/><circle cx="49.2" cy="13.23" r="3.3"/><circle cx="51.83" cy="16.31" r="3.18"/><circle cx="54.26" cy="19.42" r="3.06"/><circle cx="56.26" cy="22.61" r="2.94"/><circle cx="58.33" cy="25.16" r="3.63"/><circle cx="59.9" cy="28.6" r="3.2"/><circle cx="44.31" cy="36.89" r="3.84"/><circle cx="52.45" cy="36.66" r="3.6"/><circle cx="59.97" cy="36.08" r="4.2"/><circle cx="63.73" cy="37.45" r="4.34"/><circle cx="68.5" cy="39.31" r="3.75"/><circle cx="72" cy="46" r="4.2"/><circle cx="46.51" cy="43.47" r="4.47"/><circle cx="53.24" cy="44.36" r="5"/><circle cx="62.8" cy="46.32" r="3.44"/><circle cx="66.55" cy="48.55" r="4.44"/><circle cx="70.72" cy="52.34" r="3.59"/><circle cx="73" cy="58" r="4.2"/><circle cx="49.67" cy="50.67" r="3.61"/><circle cx="58.18" cy="51.86" r="3.63"/><circle cx="62.2" cy="53.27" r="3.54"/><circle cx="65.81" cy="55.32" r="3.46"/><circle cx="68.62" cy="60.39" r="4.84"/><circle cx="71" cy="64" r="4.2"/><circle cx="53.41" cy="57.89" r="3.7"/><circle cx="58.16" cy="59.98" r="4.7"/><circle cx="61.8" cy="61.29" r="4.32"/><circle cx="64.44" cy="66.21" r="4.01"/><circle cx="68" cy="70" r="4"/><circle cx="58.66" cy="66.09" r="3.77"/><circle cx="60.62" cy="69.08" r="3.25"/><circle cx="64.4" cy="72.03" r="3.07"/><circle cx="66.58" cy="74.79" r="3.94"/><circle cx="70" cy="78" r="3.6"/><circle cx="3.49" cy="66.34" r="4.04"/><circle cx="9.34" cy="70.27" r="3.18"/><circle cx="15.4" cy="74.15" r="3.4"/><circle cx="22.6" cy="77.97" r="3.53"/><circle cx="26" cy="82" r="3.8"/><circle cx="3.47" cy="75.25" r="3.92"/><circle cx="5.79" cy="77.44" r="4.25"/><circle cx="10.29" cy="79.56" r="3.05"/><circle cx="16" cy="83" r="3.6"/><circle cx="22.76" cy="4.26" r="3.16"/><circle cx="23.42" cy="6.87" r="2.64"/><circle cx="25.58" cy="9.07" r="2.93"/><circle cx="27.76" cy="11.82" r="2.39"/><circle cx="31.03" cy="15.74" r="3.14"/><circle cx="33" cy="19" r="2.8"/><circle cx="75.89" cy="60.56" r="3.02"/><circle cx="77.48" cy="63.45" r="3.29"/><circle cx="78.5" cy="66.02" r="2.44"/><circle cx="79.52" cy="69.26" r="3.47"/><circle cx="80.97" cy="73.75" r="2.4"/><circle cx="81.95" cy="77.29" r="3.14"/><circle cx="83" cy="80" r="3"/></g><g transform="rotate(-34.5 42 42)" stroke="#303030" stroke-width="0.8" opacity="0.22"><line x1="-80" y1="-108.8" x2="170" y2="-108.8"/><line x1="-80" y1="-101.9" x2="170" y2="-101.9"/><line x1="-80" y1="-95" x2="170" y2="-95"/><line x1="-80" y1="-88.1" x2="170" y2="-88.1"/><line x1="-80" y1="-81.2" x2="170" y2="-81.2"/><line x1="-80" y1="-74.3" x2="170" y2="-74.3"/><line x1="-80" y1="-67.4" x2="170" y2="-67.4"/><line x1="-80" y1="-60.5" x2="170" y2="-60.5"/><line x1="-80" y1="-53.6" x2="170" y2="-53.6"/><line x1="-80" y1="-46.7" x2="170" y2="-46.7"/><line x1="-80" y1="-39.8" x2="170" y2="-39.8"/><line x1="-80" y1="-32.9" x2="170" y2="-32.9"/><line x1="-80" y1="-26" x2="170" y2="-26"/><line x1="-80" y1="-19.1" x2="170" y2="-19.1"/><line x1="-80" y1="-12.2" x2="170" y2="-12.2"/><line x1="-80" y1="-5.3" x2="170" y2="-5.3"/><line x1="-80" y1="1.6" x2="170" y2="1.6"/><line x1="-80" y1="8.5" x2="170" y2="8.5"/><line x1="-80" y1="15.4" x2="170" y2="15.4"/><line x1="-80" y1="22.3" x2="170" y2="22.3"/><line x1="-80" y1="29.2" x2="170" y2="29.2"/><line x1="-80" y1="36.1" x2="170" y2="36.1"/><line x1="-80" y1="43" x2="170" y2="43"/><line x1="-80" y1="49.9" x2="170" y2="49.9"/><line x1="-80" y1="56.8" x2="170" y2="56.8"/><line x1="-80" y1="63.7" x2="170" y2="63.7"/><line x1="-80" y1="70.6" x2="170" y2="70.6"/><line x1="-80" y1="77.5" x2="170" y2="77.5"/><line x1="-80" y1="84.4" x2="170" y2="84.4"/><line x1="-80" y1="91.3" x2="170" y2="91.3"/><line x1="-80" y1="98.2" x2="170" y2="98.2"/><line x1="-80" y1="105.1" x2="170" y2="105.1"/><line x1="-80" y1="112" x2="170" y2="112"/><line x1="-80" y1="118.9" x2="170" y2="118.9"/><line x1="-80" y1="125.8" x2="170" y2="125.8"/><line x1="-80" y1="132.7" x2="170" y2="132.7"/><line x1="-80" y1="139.6" x2="170" y2="139.6"/><line x1="-80" y1="146.5" x2="170" y2="146.5"/><line x1="-80" y1="153.4" x2="170" y2="153.4"/><line x1="-80" y1="160.3" x2="170" y2="160.3"/><line x1="-80" y1="167.2" x2="170" y2="167.2"/><line x1="-80" y1="174.1" x2="170" y2="174.1"/><line x1="-80" y1="181" x2="170" y2="181"/><line x1="-80" y1="187.9" x2="170" y2="187.9"/></g><circle cx="69.5" cy="17.5" r="1.6" fill="#060606"/><circle cx="50" cy="33" r="1.0" fill="#e6e6e6"/><circle cx="64" cy="69" r="1.0" fill="#e6e6e6"/><circle cx="22" cy="20" r="0.7" fill="#d0d0d0"/><circle cx="46" cy="10" r="0.7" fill="#d0d0d0"/><circle cx="80" cy="12" r="0.7" fill="#d0d0d0"/><rect x="0" y="0" width="84" height="84" filter="url(#gr2)" opacity="0.75"/><line x1="62" y1="81.6" x2="81.5" y2="81.6" stroke="#e0e0e0" stroke-width="0.55" opacity="0.4"/></g><rect x="0.4" y="0.4" width="83.2" height="83.2" fill="none" stroke="#111" stroke-width="0.9"/></g>
<g transform="translate(467.1 405.8) scale(1.0083 1.0048)"><g clip-path="url(#cp)"><rect x="-2" y="-2" width="88" height="88" fill="#a0a0a0"/><ellipse cx="37" cy="34" rx="12" ry="19" fill="#b6b6b6" filter="url(#b2)"/><path d="M44 60 L56 48 L62 58 L54 70 Z" fill="#b8b8b8" filter="url(#b2)"/><ellipse cx="63.4" cy="30.9" rx="19.4" ry="16.6" transform="rotate(12 63.4 30.9)" fill="#8a8a8a" stroke="#5e5e5e" stroke-width="0.65"/><ellipse cx="12.8" cy="36.5" rx="13.9" ry="13.4" transform="rotate(0 12.8 36.5)" fill="#8a8a8a" stroke="#5e5e5e" stroke-width="0.65"/><ellipse cx="18.3" cy="53.8" rx="14.6" ry="10.6" transform="rotate(-25 18.3 53.8)" fill="#8a8a8a" stroke="#5e5e5e" stroke-width="0.65"/><ellipse cx="35" cy="65" rx="14.2" ry="14.4" transform="rotate(0 35 65)" fill="#8a8a8a" stroke="#5e5e5e" stroke-width="0.65"/><ellipse cx="72" cy="62" rx="15" ry="17" transform="rotate(20 72 62)" fill="#8a8a8a" stroke="#5e5e5e" stroke-width="0.65"/><ellipse cx="37.7" cy="9.4" rx="9.2" ry="9" transform="rotate(0 37.7 9.4)" fill="#8a8a8a" stroke="#5e5e5e" stroke-width="0.65"/><ellipse cx="10" cy="7" rx="17" ry="11.5" transform="rotate(-8 10 7)" fill="#8a8a8a" stroke="#5e5e5e" stroke-width="0.65"/><ellipse cx="12" cy="78" rx="15" ry="9" transform="rotate(10 12 78)" fill="#8a8a8a" stroke="#5e5e5e" stroke-width="0.65"/><ellipse cx="60" cy="84" rx="16" ry="8" transform="rotate(0 60 84)" fill="#8a8a8a" stroke="#5e5e5e" stroke-width="0.65"/><path d="M46 4 L60 18" fill="none" stroke="#8c8c8c" stroke-width="2.0" opacity="0.6" stroke-linecap="round" stroke-linejoin="round" filter="url(#b1)"/><path d="M74 4 L84 12" fill="none" stroke="#808080" stroke-width="2.5" opacity="0.6" stroke-linecap="round" stroke-linejoin="round" filter="url(#b1)"/><rect x="0" y="0" width="84" height="84" filter="url(#gr1)" opacity="0.8"/><rect x="-2" y="-2" width="88" height="88" fill="url(#vg)" opacity="1"/><polygon points="-4,88 -4,58 26,88" fill="#000" opacity="0.55" filter="url(#b4)"/><polygon points="-4,-4 22,-4 -4,22" fill="#000" opacity="0.45" filter="url(#b4)"/><polygon points="88,88 88,70 70,88" fill="#000" opacity="0.3" filter="url(#b4)"/><line x1="62" y1="81.6" x2="81.5" y2="81.6" stroke="#e0e0e0" stroke-width="0.55" opacity="0.4"/></g><rect x="0.4" y="0.4" width="83.2" height="83.2" fill="none" stroke="#111" stroke-width="0.9"/></g>
<g transform="translate(554.1 405.8) scale(1.0107 1.0048)"><g clip-path="url(#cp)"><rect x="-2" y="-2" width="88" height="88" fill="#909090"/><path d="M32.4 40.1 L45.7 38.8 L67 42.8 L82.9 37.5 L84 45.4 L69.6 50.7 L64.3 62.7 L56.3 75 L51 70.7 L45.7 57.4 L37.7 48.1 Z" fill="#a4a4a4" filter="url(#b2)"/><ellipse cx="52" cy="20" rx="26" ry="17" fill="#9c9c9c" opacity="0.8" filter="url(#b4)"/><path d="M31 39 L37.7 47.5 L45.2 57 L50 69 L55.5 76" fill="none" stroke="#d0d0d0" stroke-width="1.7" opacity="0.7" stroke-linecap="round" stroke-linejoin="round" filter="url(#b05)"/><path d="M70 43.5 L78 40.5 L84 38" fill="none" stroke="#d0d0d0" stroke-width="2.4" opacity="0.7" stroke-linecap="round" stroke-linejoin="round" filter="url(#b05)"/><path d="M15 2 L14 14 L12 24 L3 34" fill="none" stroke="#5c5c5c" stroke-width="1.4" opacity="0.8" stroke-linecap="round" stroke-linejoin="round" filter="url(#b1)"/><path d="M12 24 L22 32 L31 39" fill="none" stroke="#686868" stroke-width="1.2" opacity="0.7" stroke-linecap="round" stroke-linejoin="round" filter="url(#b1)"/><path d="M60 2 L72 12 L80 22 L84 30" fill="none" stroke="#606060" stroke-width="1.2" opacity="0.7" stroke-linecap="round" stroke-linejoin="round" filter="url(#b1)"/><path d="M2 60 L20 68 L40 80 L48 84" fill="none" stroke="#6a6a6a" stroke-width="1.2" opacity="0.6" stroke-linecap="round" stroke-linejoin="round" filter="url(#b1)"/><path d="M69.6 50.7 L66 62 L70 74 L76 84" fill="none" stroke="#747474" stroke-width="5.0" opacity="0.55" stroke-linecap="round" stroke-linejoin="round" filter="url(#b2)"/><g transform="rotate(52 42 42)"><rect x="-30" y="-30" width="144" height="144" filter="url(#fd)" opacity="0.16"/><rect x="-30" y="-30" width="144" height="144" filter="url(#fw)" opacity="0.14"/></g><rect x="0" y="0" width="84" height="84" filter="url(#gr1)" opacity="0.8"/><rect x="-2" y="-2" width="88" height="88" fill="url(#vg2)" opacity="1"/><polygon points="-4,88 -4,58 26,88" fill="#000" opacity="0.5" filter="url(#b4)"/><polygon points="-4,-4 18,-4 -4,18" fill="#000" opacity="0.3" filter="url(#b4)"/><polygon points="88,88 88,70 70,88" fill="#000" opacity="0.3" filter="url(#b4)"/><polygon points="88,-4 70,-4 88,14" fill="#000" opacity="0.3" filter="url(#b4)"/><line x1="62" y1="81.6" x2="81.5" y2="81.6" stroke="#e0e0e0" stroke-width="0.55" opacity="0.4"/></g><rect x="0.4" y="0.4" width="83.2" height="83.2" fill="none" stroke="#111" stroke-width="0.9"/></g>
<g transform="translate(378.9 492.2) scale(1.0113 1.0071)"><g clip-path="url(#cp)"><rect x="-2" y="-2" width="88" height="88" fill="#808080"/><path d="M46 -4 L90 -4 L90 90 L74 90 Z" fill="#b0b0b0" filter="url(#b4)"/><path d="M-4 6 L14 40 L30 90 L-4 90 Z" fill="#585858" filter="url(#b4)"/><path d="M-4 -4 L36 -4 L16 40 L-4 44 Z" fill="#4e4e4e" opacity="0.8" filter="url(#b4)"/><g transform="rotate(-30 42 42)" stroke="#222" stroke-width="1.35" opacity="0.75" stroke-dasharray="10 2.5 7 3"><line x1="-80" y1="-107.2" x2="170" y2="-107.2"/><line x1="-80" y1="-100" x2="170" y2="-100"/><line x1="-80" y1="-92.8" x2="170" y2="-92.8"/><line x1="-80" y1="-85.6" x2="170" y2="-85.6"/><line x1="-80" y1="-78.4" x2="170" y2="-78.4"/><line x1="-80" y1="-71.2" x2="170" y2="-71.2"/><line x1="-80" y1="-64" x2="170" y2="-64"/><line x1="-80" y1="-56.8" x2="170" y2="-56.8"/><line x1="-80" y1="-49.6" x2="170" y2="-49.6"/><line x1="-80" y1="-42.4" x2="170" y2="-42.4"/><line x1="-80" y1="-35.2" x2="170" y2="-35.2"/><line x1="-80" y1="-28" x2="170" y2="-28"/><line x1="-80" y1="-20.8" x2="170" y2="-20.8"/><line x1="-80" y1="-13.6" x2="170" y2="-13.6"/><line x1="-80" y1="-6.4" x2="170" y2="-6.4"/><line x1="-80" y1="0.8" x2="170" y2="0.8"/><line x1="-80" y1="8" x2="170" y2="8"/><line x1="-80" y1="15.2" x2="170" y2="15.2"/><line x1="-80" y1="22.4" x2="170" y2="22.4"/><line x1="-80" y1="29.6" x2="170" y2="29.6"/><line x1="-80" y1="36.8" x2="170" y2="36.8"/><line x1="-80" y1="44" x2="170" y2="44"/><line x1="-80" y1="51.2" x2="170" y2="51.2"/><line x1="-80" y1="58.4" x2="170" y2="58.4"/><line x1="-80" y1="65.6" x2="170" y2="65.6"/><line x1="-80" y1="72.8" x2="170" y2="72.8"/><line x1="-80" y1="80" x2="170" y2="80"/><line x1="-80" y1="87.2" x2="170" y2="87.2"/><line x1="-80" y1="94.4" x2="170" y2="94.4"/><line x1="-80" y1="101.6" x2="170" y2="101.6"/><line x1="-80" y1="108.8" x2="170" y2="108.8"/><line x1="-80" y1="116" x2="170" y2="116"/><line x1="-80" y1="123.2" x2="170" y2="123.2"/><line x1="-80" y1="130.4" x2="170" y2="130.4"/><line x1="-80" y1="137.6" x2="170" y2="137.6"/><line x1="-80" y1="144.8" x2="170" y2="144.8"/><line x1="-80" y1="152" x2="170" y2="152"/><line x1="-80" y1="159.2" x2="170" y2="159.2"/><line x1="-80" y1="166.4" x2="170" y2="166.4"/><line x1="-80" y1="173.6" x2="170" y2="173.6"/><line x1="-80" y1="180.8" x2="170" y2="180.8"/><line x1="-80" y1="188" x2="170" y2="188"/></g><path d="M13 -3 L30 -3 L42 24 L56 56 L60 88 L40 88 L30 56 L20 28 Z" fill="#565656" opacity="0.88" filter="url(#b1)"/><path d="M59 8 L66 8 L76 28 L84 50 L84 66 L74 46 Z" fill="#6c6c6c" opacity="0.8" filter="url(#b1)"/><g transform="rotate(-30 42 42)" stroke="#262626" stroke-width="1.0" opacity="0.35"><line x1="-80" y1="-107.2" x2="170" y2="-107.2"/><line x1="-80" y1="-100" x2="170" y2="-100"/><line x1="-80" y1="-92.8" x2="170" y2="-92.8"/><line x1="-80" y1="-85.6" x2="170" y2="-85.6"/><line x1="-80" y1="-78.4" x2="170" y2="-78.4"/><line x1="-80" y1="-71.2" x2="170" y2="-71.2"/><line x1="-80" y1="-64" x2="170" y2="-64"/><line x1="-80" y1="-56.8" x2="170" y2="-56.8"/><line x1="-80" y1="-49.6" x2="170" y2="-49.6"/><line x1="-80" y1="-42.4" x2="170" y2="-42.4"/><line x1="-80" y1="-35.2" x2="170" y2="-35.2"/><line x1="-80" y1="-28" x2="170" y2="-28"/><line x1="-80" y1="-20.8" x2="170" y2="-20.8"/><line x1="-80" y1="-13.6" x2="170" y2="-13.6"/><line x1="-80" y1="-6.4" x2="170" y2="-6.4"/><line x1="-80" y1="0.8" x2="170" y2="0.8"/><line x1="-80" y1="8" x2="170" y2="8"/><line x1="-80" y1="15.2" x2="170" y2="15.2"/><line x1="-80" y1="22.4" x2="170" y2="22.4"/><line x1="-80" y1="29.6" x2="170" y2="29.6"/><line x1="-80" y1="36.8" x2="170" y2="36.8"/><line x1="-80" y1="44" x2="170" y2="44"/><line x1="-80" y1="51.2" x2="170" y2="51.2"/><line x1="-80" y1="58.4" x2="170" y2="58.4"/><line x1="-80" y1="65.6" x2="170" y2="65.6"/><line x1="-80" y1="72.8" x2="170" y2="72.8"/><line x1="-80" y1="80" x2="170" y2="80"/><line x1="-80" y1="87.2" x2="170" y2="87.2"/><line x1="-80" y1="94.4" x2="170" y2="94.4"/><line x1="-80" y1="101.6" x2="170" y2="101.6"/><line x1="-80" y1="108.8" x2="170" y2="108.8"/><line x1="-80" y1="116" x2="170" y2="116"/><line x1="-80" y1="123.2" x2="170" y2="123.2"/><line x1="-80" y1="130.4" x2="170" y2="130.4"/><line x1="-80" y1="137.6" x2="170" y2="137.6"/><line x1="-80" y1="144.8" x2="170" y2="144.8"/><line x1="-80" y1="152" x2="170" y2="152"/><line x1="-80" y1="159.2" x2="170" y2="159.2"/><line x1="-80" y1="166.4" x2="170" y2="166.4"/><line x1="-80" y1="173.6" x2="170" y2="173.6"/><line x1="-80" y1="180.8" x2="170" y2="180.8"/><line x1="-80" y1="188" x2="170" y2="188"/></g><g fill="#161616" opacity="0.9" filter="url(#b05)"><circle cx="7.89" cy="21.94" r="0.84"/><circle cx="8.45" cy="21.12" r="0.95"/><circle cx="9.82" cy="21.94" r="0.86"/><circle cx="10.61" cy="20.64" r="0.86"/><circle cx="11.66" cy="20.24" r="0.99"/><circle cx="12.25" cy="21.01" r="0.95"/><circle cx="14.7" cy="20.3" r="1.07"/><circle cx="14.95" cy="20.05" r="0.85"/><circle cx="16.27" cy="18.33" r="1.07"/><circle cx="17.37" cy="17.46" r="0.88"/><circle cx="17.24" cy="16.9" r="0.83"/><circle cx="18.84" cy="17.42" r="0.95"/><circle cx="19.7" cy="15.95" r="0.91"/><circle cx="21.37" cy="15.68" r="0.87"/><circle cx="21.58" cy="14.94" r="1.18"/><circle cx="23.23" cy="13.89" r="1.19"/><circle cx="23.21" cy="12.63" r="1.11"/><circle cx="24.86" cy="11.94" r="1.02"/><circle cx="26.78" cy="12.03" r="0.94"/><circle cx="26.18" cy="10.65" r="1.16"/><circle cx="27.65" cy="11.36" r="0.82"/><circle cx="28.09" cy="9.28" r="0.96"/><circle cx="28.63" cy="8.94" r="0.96"/><circle cx="29.86" cy="7.95" r="0.82"/><circle cx="31" cy="8" r="1"/><circle cx="6.75" cy="69.49" r="1"/><circle cx="6.84" cy="69.38" r="0.83"/><circle cx="7.7" cy="68.04" r="1.02"/><circle cx="9.67" cy="68.16" r="1.14"/><circle cx="9.54" cy="66.56" r="1.02"/><circle cx="10.98" cy="66.78" r="0.95"/><circle cx="12.2" cy="66.36" r="1.17"/><circle cx="12.69" cy="65.25" r="1.13"/><circle cx="13.56" cy="64.05" r="0.92"/><circle cx="14.34" cy="64.44" r="1.13"/><circle cx="15.7" cy="62.74" r="0.83"/><circle cx="16.59" cy="62" r="0.97"/><circle cx="18.12" cy="61.59" r="0.82"/><circle cx="19.32" cy="60.61" r="0.88"/><circle cx="19.66" cy="60.46" r="0.84"/><circle cx="20.87" cy="59.7" r="1.1"/><circle cx="22.09" cy="59.97" r="1.06"/><circle cx="23.42" cy="58.79" r="0.98"/><circle cx="24" cy="58" r="1"/></g><circle cx="47" cy="18" r="0.95" fill="#dedede"/><circle cx="56" cy="8.5" r="0.95" fill="#dedede"/><circle cx="21" cy="31" r="0.95" fill="#dedede"/><circle cx="60" cy="54" r="0.95" fill="#dedede"/><circle cx="64.5" cy="73" r="0.95" fill="#dedede"/><circle cx="33" cy="60" r="0.95" fill="#dedede"/><circle cx="1.5" cy="52" r="0.95" fill="#dedede"/><circle cx="37" cy="37" r="0.7" fill="#c8c8c8"/><circle cx="21" cy="22" r="0.7" fill="#c8c8c8"/><circle cx="50" cy="34" r="0.7" fill="#c8c8c8"/><circle cx="75" cy="76" r="0.7" fill="#c8c8c8"/><rect x="0" y="0" width="84" height="84" filter="url(#gr2)" opacity="0.7"/><line x1="62" y1="81.6" x2="81.5" y2="81.6" stroke="#e0e0e0" stroke-width="0.55" opacity="0.4"/></g><rect x="0.4" y="0.4" width="83.2" height="83.2" fill="none" stroke="#111" stroke-width="0.9"/></g>
<g transform="translate(378.9 492.2)"><path d="M0 0 L-6.6 -2.9 L-4.7 0 L-6.6 2.9 Z" transform="translate(47.6 17.2) rotate(108) scale(1.0)" fill="#e8ea32" stroke="#77781c" stroke-width="0.35"/><path d="M0 0 L-6.6 -2.9 L-4.7 0 L-6.6 2.9 Z" transform="translate(57.6 9.6) rotate(212) scale(1.0)" fill="#e8ea32" stroke="#77781c" stroke-width="0.35"/><path d="M0 0 L-6.6 -2.9 L-4.7 0 L-6.6 2.9 Z" transform="translate(22.8 33.0) rotate(212) scale(1.0)" fill="#e8ea32" stroke="#77781c" stroke-width="0.35"/><path d="M0 0 L-6.6 -2.9 L-4.7 0 L-6.6 2.9 Z" transform="translate(62.4 56.6) rotate(212) scale(1.0)" fill="#e8ea32" stroke="#77781c" stroke-width="0.35"/><path d="M0 0 L-6.6 -2.9 L-4.7 0 L-6.6 2.9 Z" transform="translate(67.2 75.2) rotate(212) scale(1.0)" fill="#e8ea32" stroke="#77781c" stroke-width="0.35"/></g>
<g transform="translate(467.1 492.2) scale(1.0083 1.0071)"><g clip-path="url(#cp)"><rect x="-2" y="-2" width="88" height="88" fill="#909090"/><ellipse cx="52" cy="44" rx="26" ry="22" fill="#989898" filter="url(#b4)"/><ellipse cx="20" cy="16" rx="16" ry="13" transform="rotate(-10 20 16)" fill="none" stroke="#666" stroke-width="0.6"/><ellipse cx="70" cy="24" rx="15" ry="17" transform="rotate(10 70 24)" fill="none" stroke="#666" stroke-width="0.6"/><ellipse cx="44" cy="50" rx="17" ry="16" transform="rotate(0 44 50)" fill="none" stroke="#666" stroke-width="0.6"/><ellipse cx="16" cy="52" rx="14" ry="13" transform="rotate(0 16 52)" fill="none" stroke="#666" stroke-width="0.6"/><ellipse cx="72" cy="68" rx="14" ry="13" transform="rotate(0 72 68)" fill="none" stroke="#666" stroke-width="0.6"/><ellipse cx="40" cy="76" rx="14" ry="9" transform="rotate(0 40 76)" fill="none" stroke="#666" stroke-width="0.6"/><circle cx="35.2" cy="19.6" r="6.4" fill="#c4c4c4" stroke="#e6e6e6" stroke-width="1.6" filter="url(#b05)"/><path d="M28 26 L22 30 L14 34" fill="none" stroke="#b8b8b8" stroke-width="1.6" opacity="0.7" stroke-linecap="round" stroke-linejoin="round" filter="url(#b1)"/><circle cx="11" cy="36" r="2.8" fill="#cccccc" filter="url(#b1)"/><circle cx="28" cy="73" r="2.3" fill="#c6c6c6" filter="url(#b1)"/><circle cx="39" cy="61" r="1.6" fill="#bbb" filter="url(#b05)"/><rect x="0" y="0" width="84" height="84" filter="url(#gr1)" opacity="0.8"/><rect x="-2" y="-2" width="88" height="88" fill="url(#vg)" opacity="1"/><polygon points="-4,88 -4,56 28,88" fill="#000" opacity="0.5" filter="url(#b4)"/><polygon points="-4,-4 22,-4 -4,22" fill="#000" opacity="0.4" filter="url(#b4)"/><polygon points="88,88 88,70 70,88" fill="#000" opacity="0.25" filter="url(#b4)"/><line x1="62" y1="81.6" x2="81.5" y2="81.6" stroke="#e0e0e0" stroke-width="0.55" opacity="0.4"/></g><rect x="0.4" y="0.4" width="83.2" height="83.2" fill="none" stroke="#111" stroke-width="0.9"/></g>
<g transform="translate(467.1 492.2)"><path d="M0 0 L-6.6 -2.9 L-4.7 0 L-6.6 2.9 Z" transform="translate(41.0 27.0) rotate(228) scale(1.2)" fill="#e8ea32" stroke="#77781c" stroke-width="0.35"/></g>
<g transform="translate(554.1 492.2) scale(1.0107 1.0071)"><g clip-path="url(#cp)"><rect x="-2" y="-2" width="88" height="88" fill="#969696"/><ellipse cx="55" cy="42" rx="24" ry="20" fill="#949494" stroke="#6c6c6c" stroke-width="0.7"/><ellipse cx="58" cy="8" rx="22" ry="17" fill="none" stroke="#707070" stroke-width="0.7"/><ellipse cx="18" cy="50" rx="16" ry="14" fill="none" stroke="#707070" stroke-width="0.6"/><ellipse cx="16" cy="18" rx="18" ry="16" fill="none" stroke="#747474" stroke-width="0.6"/><path d="M-2 62 L20 64 L50 66 L52 88 L-2 88 Z" fill="#7c7c7c" filter="url(#b2)"/><ellipse cx="67" cy="76" rx="16.5" ry="11.5" fill="#b2b2b2" filter="url(#b1)"/><ellipse cx="69" cy="79" rx="10.5" ry="7" fill="#5c5c5c" filter="url(#b2)"/><ellipse cx="4.5" cy="54" rx="5" ry="4.5" fill="#e0e0e0" filter="url(#b1)"/><circle cx="36" cy="24" r="1.1" fill="#cccccc"/><circle cx="31" cy="36" r="1.1" fill="#cccccc"/><circle cx="70" cy="21" r="1.1" fill="#cccccc"/><rect x="0" y="0" width="84" height="84" filter="url(#gr1)" opacity="0.8"/><rect x="-2" y="-2" width="88" height="88" fill="url(#vg2)" opacity="1"/><polygon points="-4,-4 16,-4 -4,16" fill="#000" opacity="0.3" filter="url(#b4)"/><line x1="62" y1="81.6" x2="81.5" y2="81.6" stroke="#e0e0e0" stroke-width="0.55" opacity="0.4"/></g><rect x="0.4" y="0.4" width="83.2" height="83.2" fill="none" stroke="#111" stroke-width="0.9"/></g>
<g transform="translate(554.1 492.2)"><path d="M0 0 L-6.6 -2.9 L-4.7 0 L-6.6 2.9 Z" transform="translate(52.6 63.2) rotate(68) scale(1.0)" fill="#e8ea32" stroke="#77781c" stroke-width="0.35"/></g>
<text x="375.7" y="473.5" font-size="9.3" font-style="italic" transform="rotate(-90 375.7 473.5)" fill="#111">Chchd2<tspan dx="3.0" dy="-3.4" font-size="9.2">+/+</tspan></text>
<text x="374.9" y="555.7" font-size="9.3" font-style="italic" transform="rotate(-90 374.9 555.7)" fill="#111">Chchd2<tspan dx="1.5" dy="-5.3" font-size="8.8">-/-</tspan></text>
<line x1="208.9" y1="612.5" x2="465.8" y2="612.5" stroke="#5a5a5a" stroke-width="1.0"/>
<text x="332.8" y="608.2" font-size="9.35" text-anchor="middle" fill="#111">Skeletal muscle</text>
<g transform="translate(208 616.7) scale(1.0107 1.0083)"><g clip-path="url(#cp)"><rect x="-2" y="-2" width="88" height="88" fill="#9a9a9a"/><ellipse cx="44" cy="38" rx="24" ry="18" fill="#747474" opacity="0.85" filter="url(#b8)"/><g transform="rotate(-38 42 42)"><rect x="-30" y="-30" width="144" height="144" filter="url(#fd)" opacity="0.3"/><rect x="-30" y="-30" width="144" height="144" filter="url(#fw)" opacity="0.3"/></g><g transform="rotate(52 42 42)" stroke="#4c4c4c" stroke-width="0.7" opacity="0.3"><line x1="-80" y1="-108" x2="170" y2="-108"/><line x1="-80" y1="-98.5" x2="170" y2="-98.5"/><line x1="-80" y1="-89" x2="170" y2="-89"/><line x1="-80" y1="-79.5" x2="170" y2="-79.5"/><line x1="-80" y1="-70" x2="170" y2="-70"/><line x1="-80" y1="-60.5" x2="170" y2="-60.5"/><line x1="-80" y1="-51" x2="170" y2="-51"/><line x1="-80" y1="-41.5" x2="170" y2="-41.5"/><line x1="-80" y1="-32" x2="170" y2="-32"/><line x1="-80" y1="-22.5" x2="170" y2="-22.5"/><line x1="-80" y1="-13" x2="170" y2="-13"/><line x1="-80" y1="-3.5" x2="170" y2="-3.5"/><line x1="-80" y1="6" x2="170" y2="6"/><line x1="-80" y1="15.5" x2="170" y2="15.5"/><line x1="-80" y1="25" x2="170" y2="25"/><line x1="-80" y1="34.5" x2="170" y2="34.5"/><line x1="-80" y1="44" x2="170" y2="44"/><line x1="-80" y1="53.5" x2="170" y2="53.5"/><line x1="-80" y1="63" x2="170" y2="63"/><line x1="-80" y1="72.5" x2="170" y2="72.5"/><line x1="-80" y1="82" x2="170" y2="82"/><line x1="-80" y1="91.5" x2="170" y2="91.5"/><line x1="-80" y1="101" x2="170" y2="101"/><line x1="-80" y1="110.5" x2="170" y2="110.5"/><line x1="-80" y1="120" x2="170" y2="120"/><line x1="-80" y1="129.5" x2="170" y2="129.5"/><line x1="-80" y1="139" x2="170" y2="139"/><line x1="-80" y1="148.5" x2="170" y2="148.5"/><line x1="-80" y1="158" x2="170" y2="158"/><line x1="-80" y1="167.5" x2="170" y2="167.5"/><line x1="-80" y1="177" x2="170" y2="177"/><line x1="-80" y1="186.5" x2="170" y2="186.5"/></g><g transform="rotate(-38 42 42)" stroke="#555" stroke-width="0.5" opacity="0.3"><line x1="-80" y1="-109" x2="170" y2="-109"/><line x1="-80" y1="-98" x2="170" y2="-98"/><line x1="-80" y1="-87" x2="170" y2="-87"/><line x1="-80" y1="-76" x2="170" y2="-76"/><line x1="-80" y1="-65" x2="170" y2="-65"/><line x1="-80" y1="-54" x2="170" y2="-54"/><line x1="-80" y1="-43" x2="170" y2="-43"/><line x1="-80" y1="-32" x2="170" y2="-32"/><line x1="-80" y1="-21" x2="170" y2="-21"/><line x1="-80" y1="-10" x2="170" y2="-10"/><line x1="-80" y1="1" x2="170" y2="1"/><line x1="-80" y1="12" x2="170" y2="12"/><line x1="-80" y1="23" x2="170" y2="23"/><line x1="-80" y1="34" x2="170" y2="34"/><line x1="-80" y1="45" x2="170" y2="45"/><line x1="-80" y1="56" x2="170" y2="56"/><line x1="-80" y1="67" x2="170" y2="67"/><line x1="-80" y1="78" x2="170" y2="78"/><line x1="-80" y1="89" x2="170" y2="89"/><line x1="-80" y1="100" x2="170" y2="100"/><line x1="-80" y1="111" x2="170" y2="111"/><line x1="-80" y1="122" x2="170" y2="122"/><line x1="-80" y1="133" x2="170" y2="133"/><line x1="-80" y1="144" x2="170" y2="144"/><line x1="-80" y1="155" x2="170" y2="155"/><line x1="-80" y1="166" x2="170" y2="166"/><line x1="-80" y1="177" x2="170" y2="177"/><line x1="-80" y1="188" x2="170" y2="188"/></g><circle cx="20" cy="27" r="0.9" fill="#151515"/><circle cx="77" cy="58" r="0.9" fill="#151515"/><circle cx="30" cy="26.5" r="0.9" fill="#f0f0f0"/><circle cx="2" cy="60" r="0.8" fill="#e0e0e0"/><ellipse cx="12" cy="72" rx="5" ry="4" fill="#707070" opacity="0.7" filter="url(#b2)"/><rect x="0" y="0" width="84" height="84" filter="url(#gr1)" opacity="0.55"/><line x1="62" y1="81.6" x2="81.5" y2="81.6" stroke="#e0e0e0" stroke-width="0.55" opacity="0.4"/></g><rect x="0.4" y="0.4" width="83.2" height="83.2" fill="none" stroke="#111" stroke-width="0.9"/></g>
<g transform="translate(295.1 616.7) scale(1.0113 1.0083)"><g clip-path="url(#cp)"><rect x="-2" y="-2" width="88" height="88" fill="#aaaaaa"/><g transform="rotate(-38.3 42 42)"><rect x="-30" y="-30" width="144" height="144" filter="url(#fd)" opacity="0.3"/><rect x="-30" y="-30" width="144" height="144" filter="url(#fw)" opacity="0.35"/></g><g transform="rotate(-38.3 42 42)" stroke="#484848" stroke-width="1.3" opacity="0.8"><line x1="-80" y1="-8.6" x2="170" y2="-8.6"/><line x1="-80" y1="16.9" x2="170" y2="16.9"/><line x1="-80" y1="39.8" x2="170" y2="39.8"/><line x1="-80" y1="65" x2="170" y2="65"/><line x1="-80" y1="87.3" x2="170" y2="87.3"/></g><g transform="rotate(-38.3 42 42)" stroke="#d8d8d8" stroke-width="0.9" opacity="0.7"><line x1="-80" y1="-7" x2="170" y2="-7"/><line x1="-80" y1="18.5" x2="170" y2="18.5"/><line x1="-80" y1="41.4" x2="170" y2="41.4"/><line x1="-80" y1="66.6" x2="170" y2="66.6"/><line x1="-80" y1="88.9" x2="170" y2="88.9"/></g><path d="M34.7 19.8 L48 37 L61 54.5 L76.3 74.6" fill="none" stroke="#505050" stroke-width="1.6" opacity="0.5" stroke-linecap="round" stroke-linejoin="round" filter="url(#b05)"/><path d="M3 26 L10 36 L24.3 55.2 L38.8 73.9 L44 84" fill="none" stroke="#505050" stroke-width="1.6" opacity="0.45" stroke-linecap="round" stroke-linejoin="round" filter="url(#b05)"/><path d="M8 2 L20 19 L34.7 19.8" fill="none" stroke="#505050" stroke-width="1.2" opacity="0.0" stroke-linecap="round" stroke-linejoin="round"/><path d="M56 2 L66 16 L80 34" fill="none" stroke="#505050" stroke-width="1.5" opacity="0.4" stroke-linecap="round" stroke-linejoin="round" filter="url(#b05)"/><rect x="0" y="0" width="84" height="84" filter="url(#gr1)" opacity="0.6"/><rect x="-2" y="-2" width="88" height="88" fill="url(#vg2)" opacity="1"/><polygon points="88,-4 60,-4 88,24" fill="#000" opacity="0.55" filter="url(#b4)"/><polygon points="-4,-4 16,-4 -4,16" fill="#000" opacity="0.35" filter="url(#b4)"/><polygon points="-4,88 -4,66 18,88" fill="#000" opacity="0.4" filter="url(#b4)"/><rect x="-4" y="-4" width="10" height="92" fill="#000" opacity="0.25" filter="url(#b2)"/><line x1="62" y1="81.6" x2="81.5" y2="81.6" stroke="#e0e0e0" stroke-width="0.55" opacity="0.4"/></g><rect x="0.4" y="0.4" width="83.2" height="83.2" fill="none" stroke="#111" stroke-width="0.9"/></g>
<g transform="translate(382.3 616.7) scale(1.0179 1.0083)"><g clip-path="url(#cp)"><rect x="-2" y="-2" width="88" height="88" fill="#c4c4c4"/><ellipse cx="44" cy="46" rx="27" ry="25" fill="#dcdcdc" filter="url(#b8)"/><g transform="rotate(-35 42 42)"><rect x="-30" y="-30" width="144" height="144" filter="url(#fd)" opacity="0.22"/><rect x="-30" y="-30" width="144" height="144" filter="url(#fw)" opacity="0.3"/></g><path d="M0.5 25.5 L14 17 L31 6" fill="none" stroke="#5c5c5c" stroke-width="1.5" opacity="0.7" stroke-linecap="round" stroke-linejoin="round" filter="url(#b05)"/><path d="M14 76 L26 66 L40 55 L59.5 41.5 L84 22" fill="none" stroke="#5a5a5a" stroke-width="1.5" opacity="0.7" stroke-linecap="round" stroke-linejoin="round" filter="url(#b05)"/><path d="M14 77.6 L40 56.6 L59.5 43.1 L84 23.6" fill="none" stroke="#e6e6e6" stroke-width="0.9" opacity="0.6" stroke-linecap="round" stroke-linejoin="round"/><path d="M4 11 L15 25 L27.5 43 L40 59.5 L50 72" fill="none" stroke="#6c6c6c" stroke-width="2.2" opacity="0.55" stroke-linecap="round" stroke-linejoin="round" filter="url(#b1)"/><path d="M32 2.5 L41.5 19 L57 41.5 L61 48.5" fill="none" stroke="#707070" stroke-width="2.0" opacity="0.5" stroke-linecap="round" stroke-linejoin="round" filter="url(#b1)"/><path d="M64 23.5 L72 29 L83 38.5" fill="none" stroke="#707070" stroke-width="2.0" opacity="0.45" stroke-linecap="round" stroke-linejoin="round" filter="url(#b1)"/><path d="M3 61 L15 76 L21 84" fill="none" stroke="#555" stroke-width="2.0" opacity="0.5" stroke-linecap="round" stroke-linejoin="round" filter="url(#b1)"/><rect x="0" y="0" width="84" height="84" filter="url(#gr1)" opacity="0.6"/><rect x="-2" y="-2" width="88" height="88" fill="url(#vg2)" opacity="1"/><polygon points="88,-4 60,-4 88,24" fill="#000" opacity="0.5" filter="url(#b4)"/><polygon points="-4,88 -4,60 24,88" fill="#000" opacity="0.5" filter="url(#b4)"/><polygon points="-4,-4 20,-4 -4,20" fill="#000" opacity="0.4" filter="url(#b4)"/><polygon points="88,88 88,70 70,88" fill="#000" opacity="0.25" filter="url(#b4)"/><line x1="62" y1="81.6" x2="81.5" y2="81.6" stroke="#e0e0e0" stroke-width="0.55" opacity="0.4"/></g><rect x="0.4" y="0.4" width="83.2" height="83.2" fill="none" stroke="#111" stroke-width="0.9"/></g>
<g transform="translate(208 706) scale(1.0107 1.0060)"><g clip-path="url(#cp)"><rect x="-2" y="-2" width="88" height="88" fill="#b2b2b2"/><g transform="rotate(-33 42 42)"><rect x="-30" y="-30" width="144" height="144" filter="url(#fd)" opacity="0.22"/><rect x="-30" y="-30" width="144" height="144" filter="url(#fw)" opacity="0.2"/></g><g fill="none" stroke="#3e3e3e" stroke-width="0.9" opacity="0.6" filter="url(#b05)"><path d="M-57.59 17.17 L-51.32 13.97 L-45.49 10.09 L-39.74 6.1 L-34.07 1.98 L-27.76 -1.16 L-21.88 -4.95 L-16.23 -9.11 L-10.37 -12.93 L-4.7 -17.06 L0.99 -21.15 L7.14 -24.53 L13.18 -28.09 L18.65 -32.51 L25.08 -35.47 L30.52 -39.94 L36.39 -43.75 L42.12 -47.79 L48.71 -50.48 L54.39 -54.6 L60.36 -58.25"/><path d="M-52.69 24.71 L-46.6 21.24 L-41.03 16.97 L-35.24 13.02 L-29.47 9.06 L-23.12 5.98 L-17.8 1.33 L-12 -2.59 L-5.56 -5.54 L0.28 -9.39 L5.93 -13.54 L12.07 -16.94 L17.34 -21.67 L23.37 -25.24 L29.27 -29.02 L35.24 -32.68 L40.92 -36.78 L46.71 -40.71 L52.79 -44.21 L59.09 -47.36 L65.02 -51.08"/><path d="M-47.95 32.02 L-41.95 28.4 L-36.56 23.85 L-30.71 20 L-24.33 16.98 L-19.13 12.13 L-13.29 8.28 L-7.42 4.46 L-0.98 1.52 L4.85 -2.36 L10.48 -6.54 L16.48 -10.15 L21.9 -14.66 L28.24 -17.74 L33.96 -21.79 L39.89 -25.52 L45.66 -29.48 L51.54 -33.28 L57.28 -37.3 L63.01 -41.32 L69.18 -44.68"/><path d="M-43.56 38.78 L-37.43 35.37 L-31.92 30.99 L-25.74 27.66 L-20.28 23.22 L-14.32 19.53 L-8.1 16.27 L-2.71 11.71 L3.41 8.28 L9.47 4.76 L15.16 0.67 L20.94 -3.28 L27.06 -6.71 L32.83 -10.68 L38.25 -15.18 L44.4 -18.57 L50.57 -21.91 L56.56 -25.54 L62.18 -29.74 L67.67 -34.15 L73.8 -37.56"/><path d="M-38.66 46.32 L-32.85 42.41 L-26.95 38.65 L-21.23 34.6 L-15.19 31.06 L-9.5 26.96 L-3.63 23.15 L1.84 18.71 L7.95 15.28 L13.7 11.27 L20.04 8.19 L25.39 3.56 L31.15 -0.41 L37.41 -3.63 L43.24 -7.5 L49 -11.49 L54.89 -15.27 L60.53 -19.44 L66.42 -23.22 L72.27 -27.07 L78.63 -30.13"/><path d="M-34.36 52.94 L-28.62 48.92 L-22.71 45.18 L-17.06 41.02 L-10.76 37.87 L-5.47 33.16 L0.87 30.08 L6.6 26.04 L12.29 21.96 L18.44 18.57 L24.31 14.76 L29.8 10.36 L35.98 7.02 L41.6 2.83 L47.96 -0.24 L53.47 -4.61 L59.34 -8.42 L65.12 -12.36 L70.87 -16.37 L76.84 -20.02 L82.69 -23.87"/><path d="M-29.53 60.37 L-24.21 55.72 L-18.26 52.03 L-12.01 48.8 L-6.64 44.21 L-0.38 41 L5.64 37.42 L10.96 32.77 L16.98 29.17 L22.68 25.1 L28.72 21.55 L35 18.36 L40.68 14.26 L46.27 10.02 L52.49 6.75 L58.32 2.87 L64.22 -0.89 L69.59 -5.48 L75.45 -9.31 L81.82 -12.35 L87.38 -16.65"/><path d="M-25.54 66.52 L-19.69 62.68 L-13.39 59.52 L-7.77 55.33 L-1.96 51.42 L4.21 48.08 L9.82 43.86 L16.01 40.53 L21.5 36.13 L27.85 33.06 L33.04 28.21 L39.11 24.7 L44.93 20.8 L51.25 17.69 L57.08 13.82 L62.51 9.32 L68.97 6.41 L74.58 2.2 L80.67 -1.28 L86.2 -5.61 L92.26 -9.13"/><path d="M-20.91 73.65 L-14.87 70.11 L-9.31 65.81 L-3.05 62.6 L2.98 59.03 L8.93 55.34 L14.75 51.45 L20.41 47.31 L25.89 42.91 L32.48 40.19 L37.72 35.41 L43.47 31.41 L49.92 28.49 L55.59 24.36 L61.68 20.89 L67.43 16.89 L73.3 13.08 L79.22 9.34 L85.31 5.88 L91.07 1.89 L96.6 -2.45"/><path d="M-16.05 81.13 L-10.63 76.63 L-4.2 73.68 L1.61 69.77 L7.14 65.44 L13.17 61.87 L18.89 57.82 L25.16 54.62 L30.75 50.38 L36.89 46.98 L42.87 43.34 L48.63 39.35 L54.19 35.07 L60.04 31.22 L66.37 28.11 L72.21 24.25 L77.53 19.6 L83.53 15.99 L89.73 12.68 L95.58 8.83 L101.09 4.46"/><path d="M-11.87 87.58 L-5.64 84.31 L-0.1 79.99 L5.67 76.03 L11.72 72.48 L18.03 69.35 L23.55 65 L29.52 61.35 L35.6 57.85 L41.61 54.26 L46.94 49.6 L53.14 46.3 L59.08 42.59 L64.96 38.79 L70.49 34.45 L76.45 30.79 L82.56 27.34 L88.02 22.9 L94.07 19.37 L100.06 15.73 L106.09 12.17"/><path d="M-7.03 95.02 L-1.01 91.44 L4.4 86.92 L10.47 83.42 L16.64 80.07 L22.22 75.81 L27.96 71.8 L34.24 68.61 L39.9 64.48 L45.97 60.97 L51.68 56.91 L57.8 53.48 L63.45 49.32 L69.67 46.05 L75.42 42.05 L81.22 38.13 L86.91 34.04 L92.87 30.37 L98.57 26.28 L104.21 22.12 L110.69 19.26"/><path d="M-2.08 102.64 L3.06 97.72 L9.6 94.94 L15.32 90.89 L20.77 86.43 L26.77 82.82 L32.5 78.78 L38.58 75.28 L44.26 71.18 L50.06 67.27 L56 63.55 L61.9 59.79 L67.98 56.3 L73.99 52.7 L79.98 49.08 L85.63 44.92 L91.31 40.82 L97.41 37.36 L102.98 33.07 L108.75 29.12 L115.2 26.2"/><path d="M2.33 109.44 L7.72 104.89 L13.68 101.22 L19.8 97.79 L25.3 93.4 L31.19 89.62 L37.1 85.87 L43.2 82.4 L49.43 79.14 L55.04 74.93 L61.06 71.34 L66.84 67.4 L72.58 63.38 L78.17 59.13 L83.98 55.23 L89.85 51.42 L96.17 48.3 L101.96 44.37 L108.13 41.01 L113.31 36.13 L119.78 33.24"/><path d="M6.79 116.31 L12.32 111.96 L18.15 108.09 L24.34 104.78 L30.04 100.7 L36.19 97.31 L41.96 93.34 L47.6 89.18 L54 86.18 L59.17 81.3 L65.65 78.42 L71.12 73.99 L77.47 70.91 L83.11 66.75 L88.87 62.76 L94.56 58.67 L100.92 55.61 L106.79 51.8 L112.74 48.1 L118.32 43.86 L124.45 40.44"/><path d="M11.2 123.1 L17.38 119.76 L23.08 115.68 L28.67 111.44 L34.8 108.03 L41.02 104.75 L46.75 100.73 L52.74 97.09 L57.89 92.17 L63.79 88.4 L70 85.11 L75.49 80.72 L82.09 78.03 L87.45 73.43 L93.52 69.92 L99.64 66.49 L105.16 62.15 L111.29 58.73 L116.7 54.2 L122.79 50.73 L128.87 47.25"/><path d="M15.55 129.8 L21.63 126.3 L27.93 123.16 L33.71 119.21 L39.7 115.58 L45.28 111.31 L51.16 107.52 L56.84 103.4 L62.62 99.45 L68.87 96.22 L74.64 92.27 L80.11 87.84 L86.11 84.22 L92.4 81.05 L98.35 77.36 L104.04 73.27 L109.58 68.95 L115.88 65.8 L121.83 62.11 L127.2 57.52 L133.46 54.31"/><path d="M20.44 137.32 L25.96 132.98 L31.93 129.31 L37.88 125.62 L43.8 121.88 L49.87 118.38 L55.66 114.44 L61.37 110.39 L67.15 106.43 L73.46 103.29 L79.52 99.78 L85.17 95.62 L90.61 91.15 L96.91 87.99 L102.86 84.3 L108.53 80.18 L114.47 76.48 L120.52 72.94 L126.09 68.67 L132.14 65.13 L137.6 60.68"/><path d="M25.11 144.52 L31.06 140.83 L37.03 137.17 L42.55 132.82 L48.7 129.43 L54.57 125.62 L60.51 121.91 L66.21 117.84 L72.36 114.45 L78.04 110.34 L83.55 105.98 L89.66 102.53 L95.14 98.12 L101.18 94.57 L107.54 91.52 L112.96 87.01 L119.14 83.68 L124.68 79.35 L130.84 75.98 L136.85 72.39 L142.12 67.65"/></g><g fill="none" stroke="#3a3a3a" stroke-width="1.0" opacity="0.55" stroke-linecap="round" filter="url(#b05)"><path d="M-53.43 15.03 L-48.64 21.93"/><path d="M-41.99 7.59 L-36.08 13.77"/><path d="M-35.17 3.17 L-30.43 10.1"/><path d="M-26.99 -2.15 L-23.92 5.87"/><path d="M-5.15 -16.33 L-3.66 -11.29"/><path d="M1.34 -20.54 L3.4 -15.88"/><path d="M13.91 -28.71 L17.91 -21.29"/><path d="M19.57 -32.38 L22.25 -24.11"/><path d="M25.51 -36.24 L30.73 -29.62"/><path d="M30.78 -39.67 L36.64 -33.45"/><path d="M45.01 -48.91 L46.37 -43.78"/><path d="M50.76 -52.64 L56.1 -46.09"/><path d="M-48.09 21.57 L-43.86 24.83"/><path d="M-42.97 18.24 L-38.1 25.1"/><path d="M-36.09 13.78 L-30.75 20.33"/><path d="M-31.79 10.99 L-28.01 14.54"/><path d="M-19.16 2.79 L-15.73 6.56"/><path d="M-13.25 -1.05 L-8.27 5.73"/><path d="M-9.38 -3.57 L-4.03 2.97"/><path d="M-4.7 -6.61 L-0.33 0.57"/><path d="M9.58 -15.88 L12.92 -8.04"/><path d="M16.66 -20.48 L19.79 -12.5"/><path d="M29.15 -28.59 L32.58 -20.8"/><path d="M36.16 -33.14 L41.76 -26.76"/><path d="M51.65 -43.2 L55.05 -35.4"/><path d="M60.91 -49.22 L65.28 -42.04"/><path d="M-46.1 30.3 L-43.22 34.43"/><path d="M-38.55 25.39 L-34.43 32.73"/><path d="M-34.11 22.51 L-29.1 29.27"/><path d="M-25.48 16.9 L-20.83 23.9"/><path d="M-13.83 9.34 L-8.52 15.91"/><path d="M-8.75 6.04 L-4.13 13.06"/><path d="M-2.54 2.01 L1.58 5.34"/><path d="M12.13 -7.52 L16.15 -0.11"/><path d="M23.68 -15.02 L26.92 -7.11"/><path d="M28.9 -18.41 L30.49 -13.43"/><path d="M35.31 -22.57 L39.17 -15.07"/><path d="M42.17 -27.03 L48.47 -21.11"/><path d="M55.32 -35.57 L60.55 -28.95"/><path d="M62.1 -39.97 L67.97 -33.77"/><path d="M66.77 -43.01 L72.4 -36.64"/><path d="M-40.09 36.41 L-35.05 43.15"/><path d="M-35.4 33.36 L-30.19 39.99"/><path d="M-27.03 27.92 L-21.84 34.57"/><path d="M-20.89 23.94 L-15.65 30.55"/><path d="M-13.28 19 L-9.24 26.39"/><path d="M-5.66 14.05 L-2.6 18.07"/><path d="M3.74 7.94 L8.6 14.81"/><path d="M8.21 5.04 L11.9 8.65"/><path d="M24.48 -5.52 L29.69 1.11"/><path d="M33.77 -11.56 L38.85 -4.84"/><path d="M37.58 -14.03 L40.44 -9.88"/><path d="M45.46 -19.15 L47.71 -14.6"/><path d="M70.9 -35.67 L74.8 -28.19"/><path d="M-38.16 45.17 L-32.07 51.23"/><path d="M-17.47 31.73 L-15.69 36.59"/><path d="M-4.77 23.49 L-2.58 28.07"/><path d="M0.54 20.04 L4.65 27.38"/><path d="M9.11 14.47 L12.21 18.47"/><path d="M17 9.35 L21.72 16.3"/><path d="M23.95 4.83 L27.64 12.46"/><path d="M31.66 -0.17 L36.39 6.77"/><path d="M39.02 -4.95 L42.56 2.76"/><path d="M45.53 -9.18 L49.45 -5.72"/><path d="M51.09 -12.79 L56.26 -6.13"/><path d="M61.61 -19.62 L64.64 -11.57"/><path d="M70.65 -25.49 L74.92 -18.25"/><path d="M77.35 -29.85 L78.6 -24.64"/><path d="M-24.92 46.59 L-23.19 51.47"/><path d="M-19.89 43.32 L-16.32 51.02"/><path d="M-15.41 40.41 L-11.98 48.2"/><path d="M0.11 30.33 L4.02 37.81"/><path d="M8.46 24.91 L10.48 29.61"/><path d="M12.78 22.1 L16.9 29.44"/><path d="M21.85 16.22 L26.5 23.21"/><path d="M27.88 12.3 L33.08 18.94"/><path d="M38.15 5.63 L42.84 12.6"/><path d="M46.43 0.25 L48.46 4.94"/><path d="M55.77 -5.82 L60.84 0.91"/><path d="M62.87 -10.43 L67.03 -3.11"/><path d="M67.37 -13.35 L71.64 -6.1"/><path d="M72.93 -16.96 L77.41 -9.85"/><path d="M-18.63 52.52 L-13.23 59.03"/><path d="M-5.2 43.79 L-1.31 51.29"/><path d="M10.37 33.68 L14.28 37.16"/><path d="M23.93 24.88 L29.64 31.19"/><path d="M29.52 21.25 L33.06 28.96"/><path d="M34.04 18.31 L38.75 25.27"/><path d="M40.89 13.86 L44.2 21.73"/><path d="M45.2 11.07 L48.5 14.93"/><path d="M52.42 6.38 L57.59 13.03"/><path d="M59.18 1.99 L62.84 9.63"/><path d="M67.7 -3.55 L70.65 4.56"/><path d="M78.8 -10.75 L82.8 -3.34"/><path d="M86.96 -16.05 L91.94 -9.27"/><path d="M-18.75 62.61 L-14.63 69.95"/><path d="M-5.82 54.22 L-0.2 60.58"/><path d="M10.15 43.84 L15.6 50.32"/><path d="M18.14 38.66 L21.3 42.61"/><path d="M22.92 35.55 L25.93 39.61"/><path d="M29.01 31.6 L33.84 38.47"/><path d="M47.38 19.66 L51.33 27.12"/><path d="M53.62 15.61 L58 22.79"/><path d="M59.6 11.73 L61.67 16.4"/><path d="M65.27 8.05 L67.46 12.64"/><path d="M85.6 -5.15 L89.6 2.26"/><path d="M89.31 -7.57 L93 -3.95"/><path d="M-17.01 71.5 L-13.32 75.11"/><path d="M-2.5 62.08 L0.36 66.23"/><path d="M4.4 57.6 L7.34 65.7"/><path d="M15.87 50.14 L19.91 57.54"/><path d="M24.94 44.26 L30.33 50.77"/><path d="M32.93 39.07 L37.93 45.83"/><path d="M37.4 36.17 L42.56 42.83"/><path d="M42.64 32.76 L46.69 40.15"/><path d="M51.92 26.73 L53.78 31.54"/><path d="M62.71 19.73 L67.42 26.69"/><path d="M79.65 8.72 L84.94 15.31"/><path d="M84.27 5.73 L89.61 12.27"/><path d="M88.78 2.79 L92.94 6.1"/><path d="M95.96 -1.86 L100.77 5.03"/><path d="M-8.3 75.86 L-4.75 79.56"/><path d="M3.64 68.1 L7.11 75.87"/><path d="M8.12 65.19 L11.11 69.26"/><path d="M22.87 55.62 L27.53 62.6"/><path d="M27.56 52.57 L30.24 56.84"/><path d="M41.34 43.62 L44.07 47.86"/><path d="M49.03 38.63 L54.59 45.03"/><path d="M74.53 22.07 L77.82 25.94"/><path d="M81.81 17.34 L88.18 23.22"/><path d="M86.22 14.48 L90.64 17.62"/><path d="M92.78 10.22 L98.1 16.78"/><path d="M100.47 5.22 L104.9 12.36"/><path d="M-10.33 87.19 L-8.07 91.73"/><path d="M-2.34 82 L2.58 88.82"/><path d="M4.34 77.66 L10.29 83.82"/><path d="M21.93 66.24 L27.15 72.86"/><path d="M41.19 53.73 L47.02 59.96"/><path d="M47.8 49.44 L52.13 56.64"/><path d="M56.27 43.94 L59.82 51.65"/><path d="M63.16 39.47 L68.22 46.19"/><path d="M69.51 35.35 L72.62 43.34"/><path d="M77.63 30.07 L81.85 37.34"/><path d="M85.69 24.84 L90.72 31.59"/><path d="M99.06 16.16 L102.46 19.96"/><path d="M104.86 12.39 L110.94 18.45"/><path d="M7.59 85.57 L11.43 93.09"/><path d="M11.62 82.96 L16.9 89.54"/><path d="M19.93 77.56 L25.01 84.27"/><path d="M31.3 70.17 L36.32 76.93"/><path d="M35.49 67.45 L37.82 71.95"/><path d="M40.17 64.41 L43.16 68.48"/><path d="M46.46 60.33 L50.89 67.47"/><path d="M50.7 57.57 L54.84 64.9"/><path d="M56.59 53.75 L61.84 60.36"/><path d="M62.2 50.11 L65.39 58.05"/><path d="M69.85 45.14 L75.64 51.39"/><path d="M88.01 33.35 L93.52 39.78"/><path d="M95.25 28.64 L99.53 35.88"/><path d="M100.82 25.03 L105.99 31.69"/><path d="M-1.55 101.52 L3 108.58"/><path d="M3.34 98.35 L9 104.69"/><path d="M9.71 94.21 L14.38 101.19"/><path d="M16.53 89.78 L20.34 97.32"/><path d="M21.55 86.52 L26.46 93.35"/><path d="M32.08 79.68 L37.33 86.29"/><path d="M39.49 74.87 L44.84 81.41"/><path d="M45.09 71.23 L48.59 78.97"/><path d="M60.18 61.43 L64.76 68.48"/><path d="M69.18 55.59 L73.9 62.54"/><path d="M75.16 51.71 L80.27 58.4"/><path d="M90.29 41.88 L95.14 48.75"/><path d="M95.82 38.29 L101.81 44.42"/><path d="M107.27 30.86 L110.82 34.55"/><path d="M3.1 108.52 L8.21 115.22"/><path d="M17.86 98.93 L22.64 105.84"/><path d="M31.11 90.33 L34.73 97.99"/><path d="M35.28 87.62 L38.68 91.42"/><path d="M43.08 82.56 L47.55 89.66"/><path d="M52.77 76.26 L57.63 83.12"/><path d="M61.52 70.58 L67.03 77.02"/><path d="M71.89 63.84 L76.75 70.71"/><path d="M78.3 59.68 L81.41 67.68"/><path d="M84.18 55.86 L90.01 62.09"/><path d="M90.55 51.73 L95.46 58.55"/><path d="M97.26 47.37 L100.99 54.96"/><path d="M106.88 41.13 L110.16 45"/><path d="M110.28 38.91 L115.33 45.65"/><path d="M12.5 112.43 L17.55 119.16"/><path d="M20.08 107.5 L23.51 115.29"/><path d="M24.75 104.47 L29.47 111.43"/><path d="M31.6 100.03 L33.25 104.96"/><path d="M39.33 95.01 L44.08 101.94"/><path d="M44.55 91.61 L48.06 95.34"/><path d="M56.85 83.63 L59.97 87.61"/><path d="M60.99 80.94 L66.14 87.61"/><path d="M78.21 69.75 L82.01 77.31"/><path d="M86.37 64.46 L91.65 71.04"/><path d="M91.02 61.44 L96.41 67.95"/><path d="M96.55 57.85 L101.67 64.54"/><path d="M101.37 54.72 L104.89 58.44"/><path d="M115.51 45.53 L119.01 53.28"/><path d="M123.01 40.66 L128.46 47.14"/><path d="M14.91 120.88 L16.82 125.65"/><path d="M25.63 113.92 L28.09 118.33"/><path d="M32.03 109.76 L36.24 117.04"/><path d="M36.78 106.67 L40.74 114.12"/><path d="M44.79 101.48 L50.59 107.72"/><path d="M58.84 92.35 L64.37 98.77"/><path d="M77.58 80.18 L83.27 86.5"/><path d="M84.54 75.66 L86.1 80.66"/><path d="M91.19 71.34 L94.08 79.48"/><path d="M98.13 66.84 L103.42 73.42"/><path d="M106.87 61.16 L110.46 64.84"/><path d="M115.49 55.56 L120.14 62.56"/><path d="M121.82 51.45 L127.38 57.86"/><path d="M21.01 126.93 L24.34 134.79"/><path d="M28.93 121.79 L31.41 126.19"/><path d="M34.23 118.35 L40.54 124.27"/><path d="M41.61 113.56 L47.55 119.71"/><path d="M47.13 109.97 L52.91 116.23"/><path d="M54.99 104.87 L59.36 112.05"/><path d="M66.45 97.43 L69.31 105.58"/><path d="M73.2 93.04 L77.42 100.32"/><path d="M85.83 84.84 L91.06 91.46"/><path d="M98.66 76.51 L102.91 83.77"/><path d="M105.07 72.35 L107.12 77.02"/><path d="M113.54 66.84 L117.81 74.09"/><path d="M118.12 63.87 L121.82 71.49"/><path d="M127.6 57.72 L130.08 62.11"/><path d="M25.63 133.95 L29.11 137.7"/><path d="M31.28 130.28 L36.02 137.22"/><path d="M37.8 126.05 L42.11 133.26"/><path d="M45.69 120.92 L50.79 127.63"/><path d="M50.75 117.64 L56.43 123.97"/><path d="M69.27 105.61 L73.67 112.77"/><path d="M73.94 102.57 L76.63 106.84"/><path d="M80.19 98.52 L83.63 102.29"/><path d="M85.85 94.84 L90.33 101.95"/><path d="M94.58 89.17 L99.36 96.09"/><path d="M110.76 78.67 L116.03 85.26"/><path d="M118.26 73.8 L122.46 77.08"/><path d="M126.12 68.69 L129.93 76.23"/><path d="M131.79 65.01 L136.13 72.21"/><path d="M26.81 143.2 L30.67 150.71"/><path d="M47.44 129.8 L52.31 136.66"/><path d="M55.29 124.7 L60.9 131.08"/><path d="M60.61 121.25 L66.11 127.69"/><path d="M67.25 116.93 L70.66 124.74"/><path d="M72.45 113.56 L74.15 118.46"/><path d="M101.58 94.64 L104 99.08"/><path d="M109.48 89.51 L115.72 95.48"/><path d="M119.36 83.09 L122.68 90.95"/><path d="M127.18 78.02 L131.69 85.1"/><path d="M135.93 72.34 L140.08 79.65"/><path d="M141.13 68.96 L145.04 72.43"/></g><g fill="#1c1c1c" opacity="0.75" filter="url(#b05)"><circle cx="20" cy="38" r="1.2"/><circle cx="27" cy="36" r="1.1"/><circle cx="47" cy="28" r="1.4"/><circle cx="29" cy="49" r="1.1"/><circle cx="42" cy="4" r="1.3"/><circle cx="22" cy="33" r="1"/><circle cx="51" cy="33" r="1"/></g><ellipse cx="42" cy="36" rx="20" ry="12" fill="#808080" opacity="0.4" filter="url(#b4)"/><circle cx="57" cy="20" r="0.8" fill="#eee"/><circle cx="13" cy="47" r="0.8" fill="#eee"/><rect x="0" y="0" width="84" height="84" filter="url(#gr1)" opacity="0.55"/><line x1="62" y1="81.6" x2="81.5" y2="81.6" stroke="#e0e0e0" stroke-width="0.55" opacity="0.4"/></g><rect x="0.4" y="0.4" width="83.2" height="83.2" fill="none" stroke="#111" stroke-width="0.9"/></g>
<g transform="translate(295.1 706) scale(1.0113 1.0060)"><g clip-path="url(#cp)"><rect x="-2" y="-2" width="88" height="88" fill="#aeaeae"/><g transform="rotate(-32 42 42)"><rect x="-30" y="-30" width="144" height="144" filter="url(#fd)" opacity="0.2"/><rect x="-30" y="-30" width="144" height="144" filter="url(#fw)" opacity="0.22"/></g><path d="M0.7 34.5 L19.4 24 L34.7 10.8" fill="none" stroke="#505050" stroke-width="1.9" opacity="0.6" stroke-linecap="round" stroke-linejoin="round" filter="url(#b1)"/><path d="M19.4 29 L32 15" fill="none" stroke="#505050" stroke-width="1.9" opacity="0.6" stroke-linecap="round" stroke-linejoin="round" filter="url(#b1)"/><path d="M34.7 42.7 L50 34.4 L66.6 31.6 L83 26" fill="none" stroke="#505050" stroke-width="1.9" opacity="0.6" stroke-linecap="round" stroke-linejoin="round" filter="url(#b1)"/><path d="M62.4 62 L83 52.5" fill="none" stroke="#505050" stroke-width="1.9" opacity="0.6" stroke-linecap="round" stroke-linejoin="round" filter="url(#b1)"/><path d="M8 76 L29 61" fill="none" stroke="#505050" stroke-width="1.9" opacity="0.6" stroke-linecap="round" stroke-linejoin="round" filter="url(#b1)"/><path d="M50 62 L62 55" fill="none" stroke="#505050" stroke-width="1.9" opacity="0.6" stroke-linecap="round" stroke-linejoin="round" filter="url(#b1)"/><path d="M5.5 2.5 L18 27.5 L36 42.7 L52.7 58 L72 77.4" fill="none" stroke="#505050" stroke-width="1.9" opacity="0.6" stroke-linecap="round" stroke-linejoin="round" filter="url(#b1)"/><path d="M29 6.7 L47 24.7 L63.8 40 L83 52.5" fill="none" stroke="#505050" stroke-width="1.9" opacity="0.6" stroke-linecap="round" stroke-linejoin="round" filter="url(#b1)"/><path d="M52.7 2.5 L66.6 22 L83 24.7" fill="none" stroke="#505050" stroke-width="1.9" opacity="0.6" stroke-linecap="round" stroke-linejoin="round" filter="url(#b1)"/><path d="M2.8 37.2 L16.6 51 L29 58 L43 72 L52.7 83" fill="none" stroke="#505050" stroke-width="1.9" opacity="0.6" stroke-linecap="round" stroke-linejoin="round" filter="url(#b1)"/><path d="M30 58 L36 43" fill="none" stroke="#505050" stroke-width="1.9" opacity="0.6" stroke-linecap="round" stroke-linejoin="round" filter="url(#b1)"/><path d="M47 25 L44 36" fill="none" stroke="#505050" stroke-width="1.9" opacity="0.6" stroke-linecap="round" stroke-linejoin="round" filter="url(#b1)"/><path d="M20 84 L29 72" fill="none" stroke="#505050" stroke-width="1.9" opacity="0.6" stroke-linecap="round" stroke-linejoin="round" filter="url(#b1)"/><path d="M66 78 L72 84" fill="none" stroke="#505050" stroke-width="1.9" opacity="0.6" stroke-linecap="round" stroke-linejoin="round" filter="url(#b1)"/><circle cx="54" cy="31" r="1.0" fill="#f0f0f0"/><rect x="0" y="0" width="84" height="84" filter="url(#gr1)" opacity="0.6"/><rect x="-2" y="-2" width="88" height="88" fill="url(#vg2)" opacity="1"/><polygon points="88,-4 64,-4 88,20" fill="#000" opacity="0.55" filter="url(#b4)"/><polygon points="-4,88 -4,60 24,88" fill="#000" opacity="0.55" filter="url(#b4)"/><polygon points="-4,-4 18,-4 -4,18" fill="#000" opacity="0.4" filter="url(#b4)"/><polygon points="88,88 88,70 70,88" fill="#000" opacity="0.3" filter="url(#b4)"/><line x1="62" y1="81.6" x2="81.5" y2="81.6" stroke="#e0e0e0" stroke-width="0.55" opacity="0.4"/></g><rect x="0.4" y="0.4" width="83.2" height="83.2" fill="none" stroke="#111" stroke-width="0.9"/></g>
<g transform="translate(382.3 706) scale(1.0179 1.0060)"><g clip-path="url(#cp)"><rect x="-2" y="-2" width="88" height="88" fill="#cacaca"/><ellipse cx="40" cy="46" rx="24" ry="22" fill="#dedede" filter="url(#b8)"/><path d="M35 10 L38 9 L44 30 L48 36 L45 37 L39 28 Z M5 42 L9 40 L20 58 L23 72 L20 73 L14 58 Z M22 32 L25 31 L36 54 L34 56 Z M60 20 L70 10 L84 4 L84 12 L72 18 L64 26 Z M66 26 L70 30 L66 38 Z" fill="#8c8c8c" opacity="0.55" filter="url(#b1)"/><path d="M20 58 L36 56" stroke="#aaa" stroke-width="2" filter="url(#b1)"/><rect x="0" y="0" width="84" height="84" filter="url(#gr1)" opacity="0.7"/><rect x="-2" y="-2" width="88" height="88" fill="url(#vg)" opacity="1"/><polygon points="88,-4 66,-4 88,18" fill="#000" opacity="0.45" filter="url(#b4)"/><polygon points="-4,88 -4,60 24,88" fill="#000" opacity="0.5" filter="url(#b4)"/><polygon points="88,88 88,64 64,88" fill="#000" opacity="0.35" filter="url(#b4)"/><polygon points="-4,-4 14,-4 -4,14" fill="#000" opacity="0.3" filter="url(#b4)"/><line x1="62" y1="81.6" x2="81.5" y2="81.6" stroke="#e0e0e0" stroke-width="0.55" opacity="0.4"/></g><rect x="0.4" y="0.4" width="83.2" height="83.2" fill="none" stroke="#111" stroke-width="0.9"/></g>
<text x="205.3" y="687.4" font-size="9.3" font-style="italic" transform="rotate(-90 205.3 687.4)" fill="#111">Chchd2<tspan dx="3.0" dy="-3.4" font-size="9.2">+/+</tspan></text>
<text x="204.4" y="773.3" font-size="9.3" font-style="italic" transform="rotate(-90 204.4 773.3)" fill="#111">Chchd2<tspan dx="1.5" dy="-5.3" font-size="8.8">-/-</tspan></text>
</svg></body></html>
